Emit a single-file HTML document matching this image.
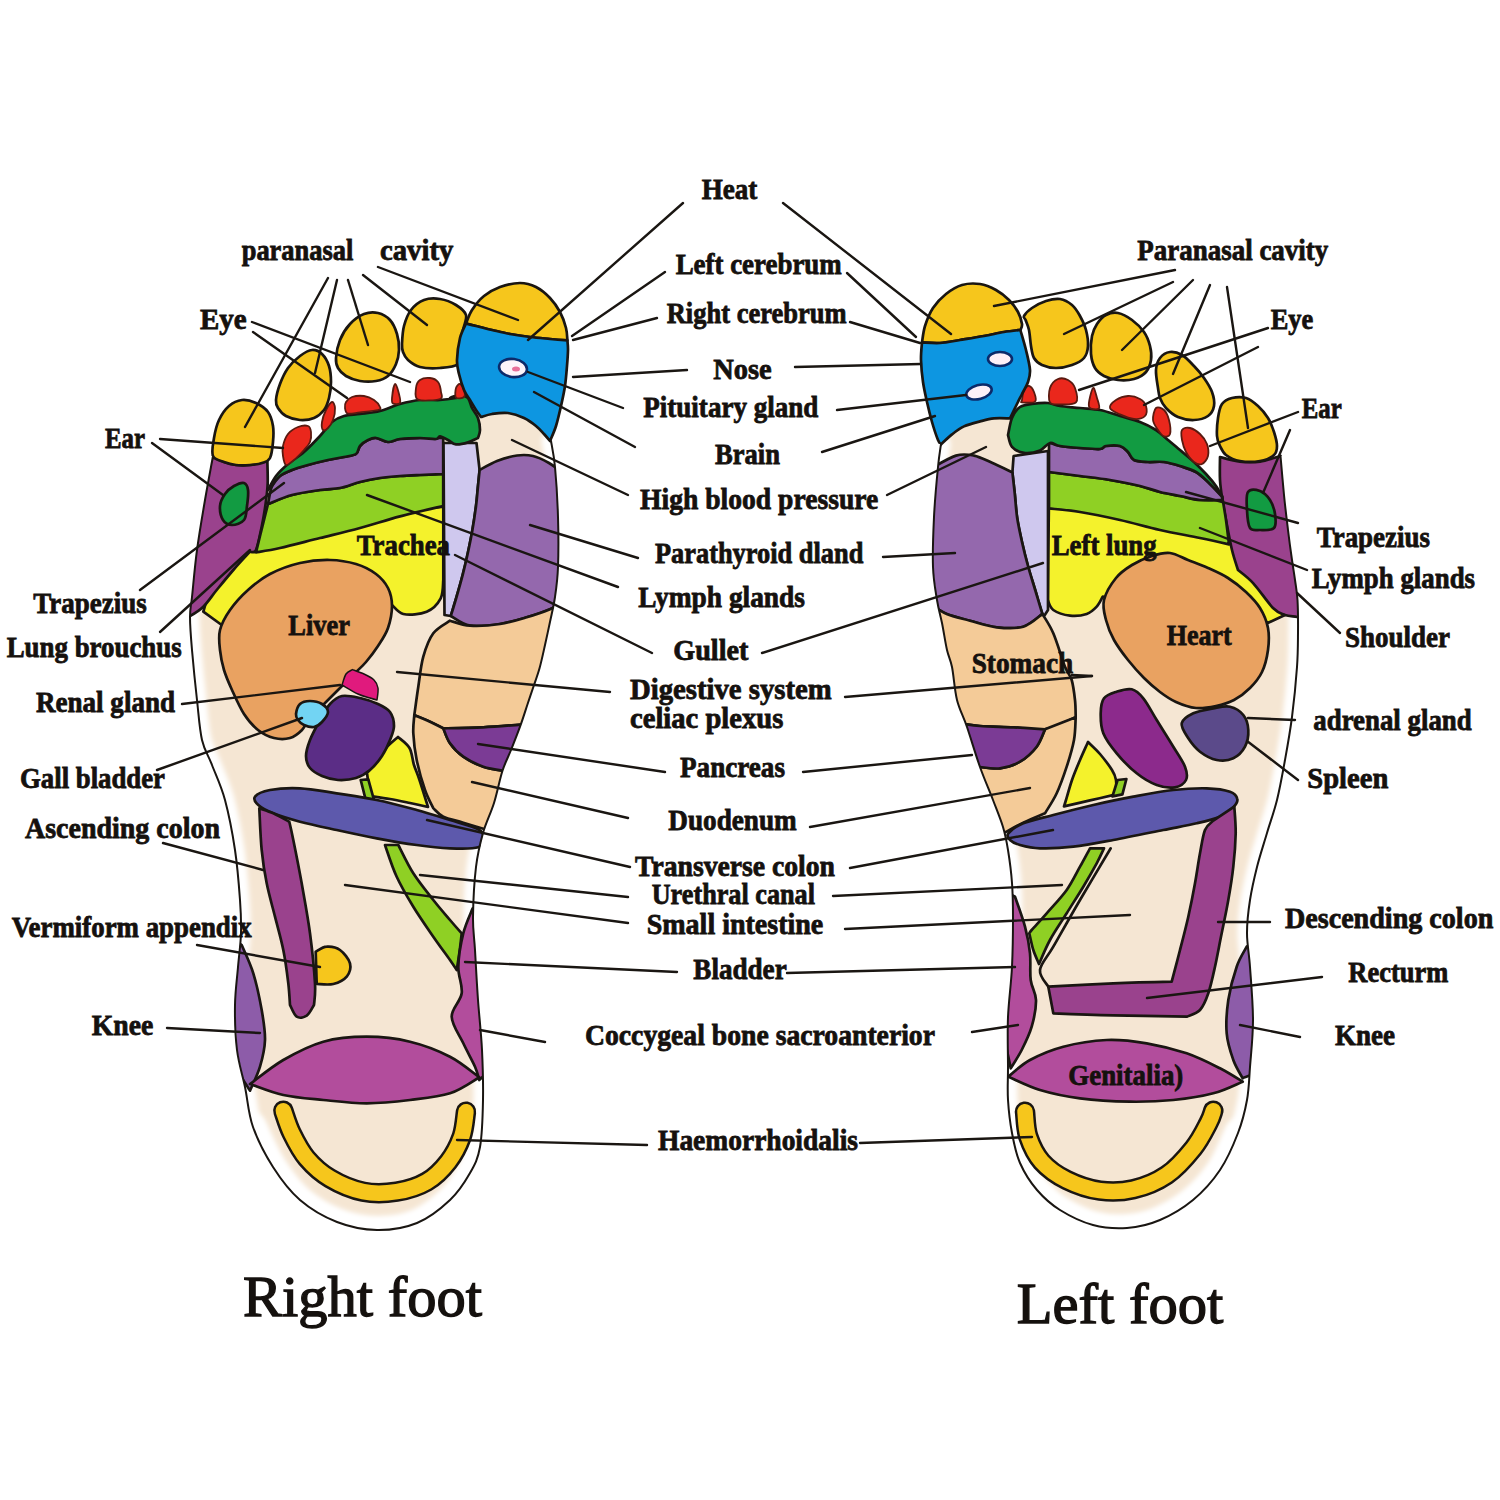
<!DOCTYPE html>
<html><head><meta charset="utf-8"><title>Foot reflexology chart</title>
<style>
html,body{margin:0;padding:0;background:#fff;}
body{width:1500px;height:1500px;overflow:hidden;font-family:"Liberation Serif",serif;}
svg{display:block;}
text{font-family:"Liberation Serif",serif;fill:#15110e;}
.lb{font-weight:bold;font-size:30px;stroke:#15110e;stroke-width:0.8px;}
.ti{font-size:56px;stroke:#15110e;stroke-width:1.3px;}
</style></head><body>
<svg width="1500" height="1500" viewBox="0 0 1500 1500">
<defs><filter id="bl" x="-20%" y="-20%" width="140%" height="140%"><feGaussianBlur stdDeviation="2.5"/></filter></defs>
<rect width="1500" height="1500" fill="#ffffff"/>
<path d="M213 456C211.7 463.3 207.7 484.3 205 500C202.3 515.7 199.2 533.8 197 550C194.8 566.2 193.2 585.8 192 597C190.8 608.2 190 608.2 190 617C190 625.8 190.8 636.2 192 650C193.2 663.8 195.3 685 197 700C198.7 715 199.5 729.2 202 740C204.5 750.8 208.2 755 212 765C215.8 775 221.2 785.8 225 800C228.8 814.2 232.5 833.3 235 850C237.5 866.7 239 886.2 240 900C241 913.8 241.3 921.8 241 933C240.7 944.2 239 955 238 967C237 979 235.2 991.2 235 1005C234.8 1018.8 235.3 1036.3 237 1050C238.7 1063.7 242.3 1074.2 245 1087C247.7 1099.8 248.3 1113.7 253 1127C257.7 1140.3 265.2 1154.8 273 1167C280.8 1179.2 289.3 1190.8 300 1200C310.7 1209.2 324.2 1217 337 1222C349.8 1227 363.7 1229.8 377 1230C390.3 1230.2 404.8 1228 417 1223C429.2 1218 441.2 1208.3 450 1200C458.8 1191.7 465 1181.8 470 1173C475 1164.2 477.8 1159.2 480 1147C482.2 1134.8 482.7 1116.2 483 1100C483.3 1083.8 482.8 1066.7 482 1050C481.2 1033.3 479.2 1016.7 478 1000C476.8 983.3 475.8 963.8 475 950C474.2 936.2 472.8 930.8 473 917C473.2 903.2 474.3 881 476 867C477.7 853 480 843.7 483 833C486 822.3 490.8 813.3 494 803C497.2 792.7 499.6 779.8 502.4 771C505.2 762.2 508 757.6 511 750C514 742.4 517.6 733.3 520.4 725.6C523.2 717.9 525.5 710.3 527.6 704C529.7 697.7 531 694 533 688C535 682 537.6 675.2 539.6 668C541.6 660.8 543.2 653 545 645C546.8 637 548.7 628 550.4 620C552.1 612 553.7 605.8 555 597C556.3 588.2 557.5 580.3 558 567C558.5 553.7 558.5 533.7 558 517C557.5 500.3 556.2 479.7 555 467C553.8 454.3 551.7 445.3 551 441C549.8 439.8 546.5 436.5 544 434C541.5 431.5 539.3 428.7 536 426C532.7 423.3 528.7 420.2 524 418C519.3 415.8 513.3 413.7 508 413C502.7 412.3 496.5 413.3 492 414C487.5 414.7 482.8 416.5 481 417C479.2 414.5 472.5 405.5 470 402C467.5 398.5 468.3 396.7 466 396C463.7 395.3 460.3 397.3 456 398C451.7 398.7 446 399.7 440 400C434 400.3 426.7 399.3 420 400C413.3 400.7 406.7 402.2 400 404C393.3 405.8 386.7 409.3 380 411C373.3 412.7 366 413.2 360 414C354 414.8 348.7 414.7 344 416C339.3 417.3 336 418.7 332 422C328 425.3 324.7 431 320 436C315.3 441 309.3 447.3 304 452C298.7 456.7 292.7 460 288 464C283.3 468 279.3 471.7 276 476C272.7 480.3 269.3 487.7 268 490C268 486.7 267.7 475.8 268 470C268.3 464.2 269.7 457.5 270 455C265 456.7 249.5 464.8 240 465C230.5 465.2 217.5 457.5 213 456Z" fill="#f5e6d3" stroke="none" stroke-width="2.7" stroke-linejoin="round" stroke-linecap="round" />
<path d="M213 456C211.7 463.3 207.7 484.3 205 500C202.3 515.7 199.2 533.8 197 550C194.8 566.2 193.2 585.8 192 597C190.8 608.2 190 608.2 190 617C190 625.8 190.8 636.2 192 650C193.2 663.8 195.3 685 197 700C198.7 715 199.5 729.2 202 740C204.5 750.8 208.2 755 212 765C215.8 775 221.2 785.8 225 800C228.8 814.2 232.5 833.3 235 850C237.5 866.7 239 886.2 240 900C241 913.8 241.3 921.8 241 933C240.7 944.2 239 955 238 967C237 979 235.2 991.2 235 1005C234.8 1018.8 235.3 1036.3 237 1050C238.7 1063.7 242.3 1074.2 245 1087C247.7 1099.8 248.3 1113.7 253 1127C257.7 1140.3 265.2 1154.8 273 1167C280.8 1179.2 289.3 1190.8 300 1200C310.7 1209.2 324.2 1217 337 1222C349.8 1227 363.7 1229.8 377 1230C390.3 1230.2 404.8 1228 417 1223C429.2 1218 441.2 1208.3 450 1200C458.8 1191.7 465 1181.8 470 1173C475 1164.2 477.8 1159.2 480 1147C482.2 1134.8 482.7 1116.2 483 1100C483.3 1083.8 482.8 1066.7 482 1050C481.2 1033.3 479.2 1016.7 478 1000C476.8 983.3 475.8 963.8 475 950C474.2 936.2 472.8 930.8 473 917C473.2 903.2 474.3 881 476 867C477.7 853 480 843.7 483 833C486 822.3 490.8 813.3 494 803C497.2 792.7 499.6 779.8 502.4 771C505.2 762.2 508 757.6 511 750C514 742.4 517.6 733.3 520.4 725.6C523.2 717.9 525.5 710.3 527.6 704C529.7 697.7 531 694 533 688C535 682 537.6 675.2 539.6 668C541.6 660.8 543.2 653 545 645C546.8 637 548.7 628 550.4 620C552.1 612 553.7 605.8 555 597C556.3 588.2 557.5 580.3 558 567C558.5 553.7 558.5 533.7 558 517C557.5 500.3 556.2 479.7 555 467C553.8 454.3 551.7 445.3 551 441" fill="none" stroke="#ffffff" stroke-width="19" stroke-linejoin="round" stroke-linecap="round" filter="url(#bl)"/>
<path d="M253 1127C256.3 1133.7 265.2 1154.8 273 1167C280.8 1179.2 289.3 1190.8 300 1200C310.7 1209.2 324.2 1217 337 1222C349.8 1227 363.7 1229.8 377 1230C390.3 1230.2 404.8 1228 417 1223C429.2 1218 441.2 1208.3 450 1200C458.8 1191.7 465 1181.8 470 1173C475 1164.2 478.3 1151.3 480 1147" fill="none" stroke="#ffffff" stroke-width="28" stroke-linejoin="round" stroke-linecap="round" filter="url(#bl)"/>
<clipPath id="clipR"><path d="M213 456L205 500L197 550L192 597L190 617L192 650L197 700L202 740L212 765L225 800L235 850L240 900L241 933L238 967L235 1005L237 1050L245 1087L253 1127L273 1167L300 1200L337 1222L377 1230L417 1223L450 1200L470 1173L480 1147L483 1100L482 1050L478 1000L475 950L473 917L476 867L483 833L494 803L502.4 771L511 750L520.4 725.6L527.6 704L533 688L539.6 668L545 645L550.4 620L555 597L558 567L558 517L555 467L551 441L640 441L640 250L150 250L150 456Z"/></clipPath>
<g clip-path="url(#clipR)">
<path d="M246.7 543.3C243.6 547.2 234.2 559.4 228.3 566.7C222.5 573.9 215.8 579.2 211.7 586.7C207.5 594.2 204.7 607.5 203.3 611.7L221.7 625C226.4 623.6 239.7 620.8 250 616.7C260.3 612.5 271.1 605.6 283.3 600C295.6 594.4 312.2 586.1 323.3 583.3C334.4 580.6 341.1 581.1 350 583.3C358.9 585.6 372.2 594.4 376.7 596.7C378.9 597.8 385.6 600.4 390 603.3C394.4 606.2 397.2 612.6 403.3 614C409.4 615.4 420.4 614.3 426.7 611.7C432.9 609.1 437.9 603.6 440.7 598.3C443.4 593.1 442.9 583.1 443.3 580L443.3 506.7C433.3 507.8 404.4 509.4 383.3 513.3C362.2 517.2 337.2 525.6 316.7 530C296.1 534.4 271.1 536.9 260 540C248.9 543.1 251.7 546.9 250 548.3Z" fill="#f4f22c" stroke="#1a1612" stroke-width="2.7" stroke-linejoin="round" stroke-linecap="round" />
<path d="M213 456C210.8 463.3 203.8 484.3 200 500C196.2 515.7 192.5 533.8 190 550C187.5 566.2 186.2 585.7 185 597C183.8 608.3 183.3 614.5 183 618C184.2 617.7 186.6 617.9 190 616C193.4 614.1 198.9 611 203.3 606.7C207.8 602.3 211.7 596.1 216.7 590C221.7 583.9 227.8 576.4 233.3 570C238.9 563.6 247.2 554.7 250 551.7C251 551.4 254.1 554.2 256 550C257.9 545.8 260.1 534.4 261.7 526.7C263.3 518.9 264.7 510.6 265.7 503.3C266.7 496.1 267.4 490.6 267.7 483.3C267.9 476.1 267.4 463.9 267.3 460C264.4 460.8 255.2 464.2 250 465C244.8 465.8 240.3 465.5 236 465C231.7 464.5 227.8 463.3 224 462C220.2 460.7 214.8 457.8 213 457Z" fill="#9a428d" stroke="#1a1612" stroke-width="2.7" stroke-linejoin="round" stroke-linecap="round" />
<path d="M220 506C220.3 501.7 222.7 497.3 225 494C227.3 490.7 230.8 487.8 234 486C237.2 484.2 241.7 482.3 244 483C246.3 483.7 247.5 486.2 248 490C248.5 493.8 247.7 501 247 506C246.3 511 246.5 516.8 244 520C241.5 523.2 235.5 525 232 525C228.5 525 225 523.2 223 520C221 516.8 219.7 510.3 220 506Z" fill="#129b42" stroke="#1a1612" stroke-width="2.7" stroke-linejoin="round" stroke-linecap="round" />
<path d="M268 504C267.3 506.7 265.3 514.7 264 520C262.7 525.3 261.3 530.6 260 536C258.7 541.4 256.7 549.7 256 552.4C260 551.7 269.3 550.4 280 548C290.7 545.6 306.7 541.3 320 538C333.3 534.7 346.7 531.6 360 528C373.3 524.4 386.1 520.1 400 516.4C413.9 512.7 436 507.7 443.2 506L443.2 474C439.3 474.2 427.2 474.7 420 475C412.8 475.3 406.7 475.5 400 476C393.3 476.5 386.7 477 380 478C373.3 479 366.7 480.3 360 482C353.3 483.7 346.7 486.7 340 488C333.3 489.3 328 488.8 320 490C312 491.2 300.7 492.7 292 495C283.3 497.3 272 502.5 268 504Z" fill="#8fd024" stroke="#1a1612" stroke-width="2.7" stroke-linejoin="round" stroke-linecap="round" />
<path d="M268 504C272 502.5 283.3 497.3 292 495C300.7 492.7 312 491.2 320 490C328 488.8 333.3 489.3 340 488C346.7 486.7 353.3 483.7 360 482C366.7 480.3 373.3 479 380 478C386.7 477 393.3 476.5 400 476C406.7 475.5 412.8 475.3 420 475C427.2 474.7 439.3 474.2 443.2 474L443.2 438C439.3 438 427.2 437.8 420 438C412.8 438.2 405.3 438.3 400 439C394.7 439.7 392 442.2 388 442C384 441.8 379.3 438.3 376 438C372.7 437.7 370.7 438.7 368 440C365.3 441.3 362 443.7 360 446C358 448.3 358.7 452.2 356 454C353.3 455.8 348.7 456 344 457C339.3 458 334 458.7 328 460C322 461.3 314 463.3 308 465C302 466.7 296.7 468.2 292 470C287.3 471.8 283.3 473.3 280 476C276.7 478.7 274 481.3 272 486C270 490.7 268.7 501 268 504Z" fill="#9468ad" stroke="#1a1612" stroke-width="2.7" stroke-linejoin="round" stroke-linecap="round" />
<path d="M443.5 443L476.5 443L479.6 470C479.3 473 478.4 482 477.8 488C477.2 494 476.9 499 476 506C475.1 513 473.8 522 472.4 530C471 538 469.2 546.6 467.6 554C466 561.4 464.6 567.4 462.8 574.4C461 581.4 458.8 589.1 456.8 596C454.8 602.9 451.8 612.7 450.8 616L444.5 615L443.5 443Z" fill="#cfc8ee" stroke="#1a1612" stroke-width="2.7" stroke-linejoin="round" stroke-linecap="round" />
<path d="M268 490C269.3 487.7 272.7 480.3 276 476C279.3 471.7 283.3 468 288 464C292.7 460 298.7 456.7 304 452C309.3 447.3 315.3 441 320 436C324.7 431 328 425.3 332 422C336 418.7 339.3 417.3 344 416C348.7 414.7 354 414.8 360 414C366 413.2 373.3 412.7 380 411C386.7 409.3 393.3 405.8 400 404C406.7 402.2 413.3 400.7 420 400C426.7 399.3 434 400.3 440 400C446 399.7 454.3 398.3 456 398C457.7 397.7 449.3 398.5 450 398C450.7 397.5 457 395 460 395C463 395 466 395.8 468 398C470 400.2 470.3 404.7 472 408C473.7 411.3 476.7 414.3 478 418C479.3 421.7 480 426.7 480 430C480 433.3 478.3 436.7 478 438C476.3 438.7 471.7 441.3 468 442.4C464.3 443.5 459.3 444.8 456 444.4C452.7 444 450.7 441.3 448 440C445.3 438.7 442 436.6 440 436.4C438 436.2 439.3 438.7 436 439C432.7 439.3 426 438 420 438C414 438 405.3 438.3 400 439C394.7 439.7 392 442.2 388 442C384 441.8 379.3 438.3 376 438C372.7 437.7 370.7 438.7 368 440C365.3 441.3 362 443.7 360 446C358 448.3 358.7 452.2 356 454C353.3 455.8 348.7 456 344 457C339.3 458 334 458.7 328 460C322 461.3 314 463.3 308 465C302 466.7 296.7 468.2 292 470C287.3 471.8 283.3 473.3 280 476C276.7 478.7 274 483.7 272 486C270 488.3 268.7 489.3 268 490Z" fill="#129b42" stroke="#1a1612" stroke-width="2.7" stroke-linejoin="round" stroke-linecap="round" />
<path d="M283 446C283.8 442.3 285.5 437.2 288 434C290.5 430.8 294.7 428.3 298 427C301.3 425.7 305.8 425.2 308 426C310.2 426.8 310.7 429.3 311 432C311.3 434.7 311.2 439 310 442C308.8 445 306.7 447 304 450C301.3 453 297 457.5 294 460C291 462.5 287.8 465.7 286 465C284.2 464.3 283.5 459.2 283 456C282.5 452.8 282.2 449.7 283 446Z" fill="#ea271c" stroke="#5a1a10" stroke-width="1.8" stroke-linejoin="round" stroke-linecap="round" />
<path d="M322 422C322.5 418.7 324.3 413.3 326 410C327.7 406.7 330.5 402.3 332 402C333.5 401.7 334.8 405 335 408C335.2 411 334.2 416.7 333 420C331.8 423.3 329.7 426.3 328 428C326.3 429.7 324 431 323 430C322 429 321.5 425.3 322 422Z" fill="#ea271c" stroke="#5a1a10" stroke-width="1.8" stroke-linejoin="round" stroke-linecap="round" />
<path d="M346 402C347.2 400.2 349 398 352 397C355 396 360.3 395.5 364 396C367.7 396.5 371.3 398.2 374 400C376.7 401.8 379.3 405.3 380 407C380.7 408.7 381.3 409.1 378 410C374.7 410.9 365 411.8 360 412.4C355 413 350.5 414.3 348 413.6C345.5 412.9 345.3 409.9 345 408C344.7 406.1 344.8 403.8 346 402Z" fill="#ea271c" stroke="#5a1a10" stroke-width="1.8" stroke-linejoin="round" stroke-linecap="round" />
<path d="M392 398C392.3 394.7 393.8 384.7 395 384C396.2 383.3 398.2 390.8 399 394C399.8 397.2 401 401.4 400 403C399 404.6 394.3 404.4 393 403.6C391.7 402.8 391.7 401.3 392 398Z" fill="#ea271c" stroke="#5a1a10" stroke-width="1.8" stroke-linejoin="round" stroke-linecap="round" />
<path d="M416 388C416.3 384.7 417.7 381.7 420 380C422.3 378.3 427 377.7 430 378C433 378.3 436.2 379.7 438 382C439.8 384.3 440.7 389.2 441 392C441.3 394.8 443.8 397.7 440 399C436.2 400.3 422 401.4 418 399.6C414 397.8 415.7 391.3 416 388Z" fill="#ea271c" stroke="#5a1a10" stroke-width="1.8" stroke-linejoin="round" stroke-linecap="round" />
<path d="M456 388C456.7 385.7 458.7 383.7 460 384C461.3 384.3 463.3 387.8 464 390C464.7 392.2 465.3 395.7 464 397C462.7 398.3 457.3 399.1 456 397.6C454.7 396.1 455.3 390.3 456 388Z" fill="#ea271c" stroke="#5a1a10" stroke-width="1.8" stroke-linejoin="round" stroke-linecap="round" />
<path d="M213 456C211.3 452 213 444 214 438C215 432 216.5 425.3 219 420C221.5 414.7 225.2 409.3 229 406C232.8 402.7 237.5 400.5 242 400C246.5 399.5 251.7 401 256 403C260.3 405 265.2 408.2 268 412C270.8 415.8 272.2 421 273 426C273.8 431 273.5 436.7 273 442C272.5 447.3 271.8 454.5 270 458C268.2 461.5 265.3 461.8 262 463C258.7 464.2 254.3 464.7 250 465C245.7 465.3 240.3 465.5 236 465C231.7 464.5 227.8 463.5 224 462C220.2 460.5 214.7 460 213 456Z" fill="#f6c61c" stroke="#1a1612" stroke-width="2.7" stroke-linejoin="round" stroke-linecap="round" />
<path d="M276 400C276.3 396 278 389.3 280 384C282 378.7 284.7 372.7 288 368C291.3 363.3 296 359 300 356C304 353 308.3 350.3 312 350C315.7 349.7 319.2 351.3 322 354C324.8 356.7 327.5 361.3 329 366C330.5 370.7 331 376.7 331 382C331 387.3 330.2 393.3 329 398C327.8 402.7 326.5 406.7 324 410C321.5 413.3 318 416.3 314 418C310 419.7 304.7 420.3 300 420C295.3 419.7 289.7 418 286 416C282.3 414 279.7 410.7 278 408C276.3 405.3 275.7 404 276 400Z" fill="#f6c61c" stroke="#1a1612" stroke-width="2.7" stroke-linejoin="round" stroke-linecap="round" />
<path d="M336 358C336.3 353.3 337.7 345.7 340 340C342.3 334.3 346 328.3 350 324C354 319.7 359.3 315.8 364 314C368.7 312.2 373.7 312 378 313C382.3 314 386.8 316.5 390 320C393.2 323.5 395.5 329 397 334C398.5 339 399.2 345 399 350C398.8 355 397.8 359.7 396 364C394.2 368.3 391.3 373.2 388 376C384.7 378.8 380.7 380.2 376 381C371.3 381.8 365 381.8 360 381C355 380.2 349.7 378.2 346 376C342.3 373.8 339.7 371 338 368C336.3 365 335.7 362.7 336 358Z" fill="#f6c61c" stroke="#1a1612" stroke-width="2.7" stroke-linejoin="round" stroke-linecap="round" />
<path d="M402 344C402.2 339.7 402.5 331.7 404 326C405.5 320.3 407.7 314.3 411 310C414.3 305.7 419.2 301.8 424 300C428.8 298.2 434.7 298.2 440 299C445.3 299.8 451.7 302.3 456 305C460.3 307.7 464.8 310.8 466 315C467.2 319.2 464.1 324.2 463 330C461.9 335.8 460.4 344.3 459.6 350C458.8 355.7 461.3 361 458 364C454.7 367 446.3 367.5 440 368C433.7 368.5 425.3 368.3 420 367C414.7 365.7 410.8 362.5 408 360C405.2 357.5 404 354.7 403 352C402 349.3 401.8 348.3 402 344Z" fill="#f6c61c" stroke="#1a1612" stroke-width="2.7" stroke-linejoin="round" stroke-linecap="round" />
<path d="M466 323.6C467 321.3 469 314.6 472 310C475 305.4 479.3 299.8 484 296C488.7 292.2 494 289.2 500 287C506 284.8 514 283 520 283C526 283 531 284.5 536 287C541 289.5 546 293.8 550 298C554 302.2 557.3 307 560 312C562.7 317 564.8 323.3 566 328C567.2 332.7 567.2 338.3 567.4 340.4C564.5 340.2 556.2 339.6 550 339C543.8 338.4 536.7 337.8 530 337C523.3 336.2 516.3 335.2 510 334C503.7 332.8 497.7 331.3 492 330C486.3 328.7 480.3 327.1 476 326C471.7 324.9 467.7 324 466 323.6Z" fill="#f6c61c" stroke="#1a1612" stroke-width="2.7" stroke-linejoin="round" stroke-linecap="round" />
<path d="M466 323.6C467.7 324 471.7 324.9 476 326C480.3 327.1 486.3 328.7 492 330C497.7 331.3 503.7 332.8 510 334C516.3 335.2 523.3 336.2 530 337C536.7 337.8 543.8 338.4 550 339C556.2 339.6 564.5 340.2 567.4 340.4C567.5 342 568.1 345.7 568 350C567.9 354.3 567.5 360 567 366C566.5 372 566 379.3 565 386C564 392.7 562.5 399.3 561 406C559.5 412.7 557.8 420.2 556 426C554.2 431.8 551 438.5 550 441C549 439.8 546.3 436.5 544 434C541.7 431.5 539.3 428.7 536 426C532.7 423.3 528.7 420.2 524 418C519.3 415.8 513.3 413.7 508 413C502.7 412.3 496.5 413.3 492 414C487.5 414.7 482.8 416.5 481 417C480.2 415.8 477.8 412.8 476 410C474.2 407.2 472 403.3 470 400C468 396.7 465.8 394.3 464 390C462.2 385.7 460.2 379 459 374C457.8 369 456.8 366 457 360C457.2 354 458.5 344.1 460 338C461.5 331.9 465 326 466 323.6Z" fill="#0d96e1" stroke="#1a1612" stroke-width="2.7" stroke-linejoin="round" stroke-linecap="round" />
<ellipse cx="513.0" cy="368.0" rx="14" ry="9" transform="rotate(8 513.0 368.0)" fill="#fdf4fa" stroke="#0c2a6a" stroke-width="2.6"/>
<ellipse cx="516" cy="369" rx="4" ry="2.5" fill="#e8709a"/>
<path d="M479.6 470C482.5 468.5 490.8 463.4 497 461C503.2 458.6 511 456.3 517 455.5C523 454.7 527.7 454.8 533 456C538.3 457.2 544.2 460.3 549 463C553.8 465.7 559.8 470.5 562 472C562.5 479.5 564.5 501.2 565 517C565.5 532.8 565.5 552.8 565 567C564.5 581.2 562.5 596.2 562 602C560 603.2 555.9 606.8 550 609.3C544.1 611.9 535 614.9 526.7 617.3C518.3 619.8 509.4 622.6 500 624C490.6 625.4 478.2 627 470 625.7C461.8 624.3 454 617.6 450.8 616C451.8 612.7 454.8 602.9 456.8 596C458.8 589.1 461 581.4 462.8 574.4C464.6 567.4 466 561.4 467.6 554C469.2 546.6 471 538 472.4 530C473.8 522 475.1 513 476 506C476.9 499 477.2 494 477.8 488C478.4 482 479.3 473 479.6 470Z" fill="#9468ad" stroke="#1a1612" stroke-width="2.7" stroke-linejoin="round" stroke-linecap="round" />
<path d="M450 620.7C453.3 621.5 461.7 625.1 470 625.7C478.3 626.2 490.6 625.4 500 624C509.4 622.6 518.3 619.8 526.7 617.3C535 614.9 543.9 611.9 550 609.3C556.1 606.7 561.1 602.9 563.3 601.7C561.1 609.7 553.9 636.4 550 650C546.1 663.6 543.6 671 540 683.3C536.4 695.7 530.3 717.2 528.3 724C520.8 724.6 497.5 726.6 483.3 727.3C469.2 728.1 450 728.2 443.3 728.3C441.1 727.2 434.8 723.9 430 721.7C425.2 719.4 416.9 716.1 414.3 715C415 710.3 416.8 696.4 418.3 686.7C419.8 676.9 420.8 665.6 423.3 656.7C425.8 647.8 428.9 639.3 433.3 633.3C437.8 627.3 447.2 622.8 450 620.7Z" fill="#f4cb98" stroke="#1a1612" stroke-width="2.7" stroke-linejoin="round" stroke-linecap="round" />
<path d="M414.3 715C416.9 716.1 425.2 719.4 430 721.7C434.8 723.9 441.1 727.2 443.3 728.3C444.4 730.8 446.7 738.6 450 743.3C453.3 748.1 457.8 752.8 463.3 756.7C468.9 760.6 475.8 764.2 483.3 766.7C490.8 769.2 504.2 770.8 508.3 771.7C508.1 774.2 508.1 780.8 506.7 786.7C505.3 792.5 502.2 799.2 500 806.7C497.8 814.2 494.4 827.5 493.3 831.7C488.3 830.2 471.7 825.2 463.3 822.7C455 820.2 448.3 819.1 443.3 816.7C438.3 814.3 435 809.7 433.3 808.3C431.9 805.3 427.8 798.1 425 790C422.2 781.9 418.6 769.4 416.7 760C414.7 750.6 413.7 740.8 413.3 733.3C412.9 725.8 414.2 718.1 414.3 715Z" fill="#f4cb98" stroke="#1a1612" stroke-width="2.7" stroke-linejoin="round" stroke-linecap="round" />
<path d="M443.3 728.3C450 728.2 469.2 728.1 483.3 727.3C497.5 726.6 520.8 724.6 528.3 724C526.9 727.8 523.3 738.7 520 746.7C516.7 754.6 510.3 767.5 508.3 771.7C504.2 770.8 490.8 769.2 483.3 766.7C475.8 764.2 468.9 760.6 463.3 756.7C457.8 752.8 453.3 748.1 450 743.3C446.7 738.6 444.4 730.8 443.3 728.3Z" fill="#7b3b95" stroke="#1a1612" stroke-width="2.7" stroke-linejoin="round" stroke-linecap="round" />
<path d="M220 650C219.3 643.3 218.3 636.7 220 630C221.7 623.3 225.3 616.7 230 610C234.7 603.3 241.3 596 248 590C254.7 584 261.3 578.5 270 574C278.7 569.5 290 565.3 300 563C310 560.7 320.7 559.8 330 560C339.3 560.2 348.3 561.7 356 564C363.7 566.3 370.7 570 376 574C381.3 578 385.3 582.7 388 588C390.7 593.3 392 599.3 392 606C392 612.7 390.3 621.3 388 628C385.7 634.7 381.7 640.3 378 646C374.3 651.7 370 657.3 366 662C362 666.7 358.7 669.3 354 674C349.3 678.7 343 685 338 690C333 695 328.7 699.3 324 704C319.3 708.7 313.7 713.7 310 718C306.3 722.3 305.3 726.7 302 730C298.7 733.3 294.7 736.7 290 738C285.3 739.3 279.3 739.3 274 738C268.7 736.7 263 734 258 730C253 726 248.3 720.7 244 714C239.7 707.3 235.3 697.3 232 690C228.7 682.7 226 676.7 224 670C222 663.3 220.7 656.7 220 650Z" fill="#e9a261" stroke="#1a1612" stroke-width="2.7" stroke-linejoin="round" stroke-linecap="round" />
<path d="M398 737C396 738.8 389.7 743.8 386 748C382.3 752.2 379.2 757.8 376 762C372.8 766.2 368.5 771.2 367 773L370 796C373.3 796.5 383.3 797.8 390 799C396.7 800.2 403.7 801.7 410 803C416.3 804.3 425 806.3 428 807C426.6 802.5 421.8 787 419.5 780C417.2 773 415.7 770.3 414 765C412.3 759.7 412.2 752.7 409.5 748C406.8 743.3 399.9 738.8 398 737Z" fill="#f4f22c" stroke="#1a1612" stroke-width="2.7" stroke-linejoin="round" stroke-linecap="round" />
<path d="M330 704C333.7 700 337 697 342 696C347 695 354 696.7 360 698C366 699.3 373 701.7 378 704C383 706.3 387.3 708.3 390 712C392.7 715.7 394 721.3 394 726C394 730.7 392 735 390 740C388 745 385.3 751 382 756C378.7 761 374.3 766.3 370 770C365.7 773.7 361.3 776.3 356 778C350.7 779.7 343.7 780.3 338 780C332.3 779.7 326.7 778 322 776C317.3 774 312.7 771.3 310 768C307.3 764.7 306 760.7 306 756C306 751.3 307.7 746 310 740C312.3 734 316.7 726 320 720C323.3 714 326.3 708 330 704Z" fill="#5b2d86" stroke="#1a1612" stroke-width="2.7" stroke-linejoin="round" stroke-linecap="round" />
<path d="M342 685C342.7 683.2 344.3 676.6 346 674C347.7 671.4 351.3 670.3 352.4 669.6C354.3 670.3 360.4 672.3 364 674C367.6 675.7 371.7 677.7 374 680C376.3 682.3 377.5 684.7 378 688C378.5 691.3 377.2 698 377 700C375.8 699.7 373.2 699 370 698C366.8 697 362.7 696.2 358 694C353.3 691.8 344.7 686.5 342 685Z" fill="#e01a7d" stroke="#1a1612" stroke-width="1.5" stroke-linejoin="round" stroke-linecap="round" />
<path d="M296 714C296.3 711.3 297.7 706.2 300 704C302.3 701.8 306.3 701 310 701C313.7 701 319 702.2 322 704C325 705.8 328 709 328 712C328 715 324.3 719.5 322 722C319.7 724.5 317 726.5 314 727C311 727.5 306.7 726.2 304 725C301.3 723.8 299.3 721.8 298 720C296.7 718.2 295.7 716.7 296 714Z" fill="#72d4f3" stroke="#1a1612" stroke-width="2.7" stroke-linejoin="round" stroke-linecap="round" />
<path d="M360.7 780L368.3 779.3L374 800L366 801Z" fill="#8fd024" stroke="#1a1612" stroke-width="2.7" stroke-linejoin="round" stroke-linecap="round" />
<path d="M385 845C386.9 850.3 391.9 866.4 396.7 876.7C401.4 886.9 407.2 896.7 413.3 906.7C419.4 916.7 427.2 927.8 433.3 936.7C439.4 945.6 446.1 954.4 450 960C453.9 965.6 455.6 968.3 456.7 970C457.1 967.2 458.5 959.4 459.3 953.3C460.2 947.2 461.3 936.7 461.7 933.3C459.7 931.1 454.7 925.6 450 920C445.3 914.4 439.4 907.8 433.3 900C427.2 892.2 419.2 882.5 413.3 873.3C407.5 864.2 400.8 849.7 398.3 845L385 845Z" fill="#8fd024" stroke="#1a1612" stroke-width="2.7" stroke-linejoin="round" stroke-linecap="round" />
<path d="M255 796.7C256.9 794.2 262.5 791.4 270 790C277.5 788.6 288.9 787.8 300 788.3C311.1 788.9 323.9 791.4 336.7 793.3C349.4 795.3 363.3 797.2 376.7 800C390 802.8 404.4 806.7 416.7 810C428.9 813.3 439.7 816.8 450 820C460.3 823.2 472.8 826.3 478.3 829.3C483.9 832.4 483.3 835.3 483.3 838.3C483.3 841.3 483.9 845.7 478.3 847.3C472.8 849 460.3 848.7 450 848.3C439.7 847.9 428.9 846.7 416.7 845C404.4 843.3 390 840.8 376.7 838.3C363.3 835.8 349.4 832.8 336.7 830C323.9 827.2 310.6 824.4 300 821.7C289.4 818.9 280.3 816.1 273.3 813.3C266.4 810.6 261.4 807.8 258.3 805C255.3 802.2 253.1 799.2 255 796.7Z" fill="#5d59ac" stroke="#1a1612" stroke-width="2.7" stroke-linejoin="round" stroke-linecap="round" />
<path d="M259.3 808.3C259.7 815.3 260.4 837.5 261.7 850C262.9 862.5 264.4 872.2 266.7 883.3C268.9 894.4 272.2 905.6 275 916.7C277.8 927.8 281.1 938.9 283.3 950C285.6 961.1 287.2 974.2 288.3 983.3C289.4 992.5 289.7 1001.4 290 1005C291.1 1006.9 293.9 1014.9 296.7 1016.7C299.4 1018.4 303.8 1017.6 306.7 1015.7C309.6 1013.7 312.8 1006.8 314 1005C314.2 1001.4 315.7 995.3 315 983.3C314.3 971.4 312.2 950 310 933.3C307.8 916.7 304.4 898.9 301.7 883.3C298.9 867.8 295.4 850.3 293.3 840C291.3 829.7 290 824.7 289.3 821.7C286.7 820.3 278.3 815.6 273.3 813.3C268.3 811.1 261.7 809.2 259.3 808.3Z" fill="#9a428d" stroke="#1a1612" stroke-width="2.7" stroke-linejoin="round" stroke-linecap="round" />
<path d="M315.7 951.7C317.5 950.8 322.6 946.9 326.7 946.7C330.7 946.4 336.1 947.2 340 950C343.9 952.8 348.9 958.9 350 963.3C351.1 967.8 349.4 973.2 346.7 976.7C343.9 980.1 338.3 982.8 333.3 984C328.3 985.2 319.4 984 316.7 984L315.7 951.7Z" fill="#f6c61c" stroke="#1a1612" stroke-width="2.7" stroke-linejoin="round" stroke-linecap="round" />
<path d="M472.7 908.3C471.1 912.5 465.7 923.6 463.3 933.3C460.9 943.1 458.6 956.7 458.3 966.7C458.1 976.7 462.8 985 461.7 993.3C460.6 1001.7 451.4 1008.3 451.7 1016.7C451.9 1025 459.4 1035 463.3 1043.3C467.2 1051.7 472.3 1060.6 475 1066.7C477.7 1072.8 478.6 1077.8 479.3 1080C480.6 1077.8 485.7 1077.2 486.7 1066.7C487.6 1056.1 485.8 1033.3 485 1016.7C484.2 1000 482.8 984.7 481.7 966.7C480.6 948.6 478.9 918.1 478.3 908.3Z" fill="#b24d9c" stroke="#1a1612" stroke-width="2.7" stroke-linejoin="round" stroke-linecap="round" />
<path d="M241.7 945C243.6 949.7 250 962.5 253.3 973.3C256.7 984.2 259.7 998.9 261.7 1010C263.6 1021.1 265.3 1030.6 265 1040C264.7 1049.4 262.5 1058.2 260 1066.7C257.5 1075.1 251.7 1086.7 250 1090.7C247.2 1085.6 236.8 1072.3 233.3 1060C229.8 1047.7 229.4 1030.6 229 1016.7C228.6 1002.8 228.9 988.9 230.7 976.7C232.4 964.4 237.9 948.9 239.3 943.3Z" fill="#8d5ca9" stroke="#1a1612" stroke-width="2.7" stroke-linejoin="round" stroke-linecap="round" />
<path d="M250 1084C255.6 1080 271.1 1067.1 283.3 1060C295.6 1052.9 309.4 1045.6 323.3 1041.7C337.2 1037.8 352.2 1036.7 366.7 1036.7C381.1 1036.7 396.1 1038.3 410 1041.7C423.9 1045 438.4 1050.7 450 1056.7C461.6 1062.6 474.4 1073.9 479.3 1077.3C474.4 1080 461.6 1089.6 450 1093.3C438.4 1097.1 423.9 1098.3 410 1100C396.1 1101.7 381.1 1103.3 366.7 1103.3C352.2 1103.3 337.2 1101.4 323.3 1100C309.4 1098.6 295.6 1097.7 283.3 1095C271.1 1092.3 255.6 1085.8 250 1084Z" fill="#b24d9c" stroke="#1a1612" stroke-width="2.7" stroke-linejoin="round" stroke-linecap="round" />
<path d="M283.3 1110.7C284.7 1114.4 287.8 1125.4 291.7 1133.3C295.6 1141.3 300.3 1150.8 306.7 1158.3C313.1 1165.8 320.6 1172.8 330 1178.3C339.4 1183.9 352.2 1189.4 363.3 1191.7C374.4 1193.9 386.1 1193.3 396.7 1191.7C407.2 1190 418.1 1186.7 426.7 1181.7C435.3 1176.7 442.5 1169.2 448.3 1161.7C454.2 1154.2 458.7 1145 461.7 1136.7C464.6 1128.3 465.3 1115.8 466 1111.7" fill="none" stroke="#1a1612" stroke-width="20.5" stroke-linejoin="round" stroke-linecap="round" />
<path d="M283.3 1110.7C284.7 1114.4 287.8 1125.4 291.7 1133.3C295.6 1141.3 300.3 1150.8 306.7 1158.3C313.1 1165.8 320.6 1172.8 330 1178.3C339.4 1183.9 352.2 1189.4 363.3 1191.7C374.4 1193.9 386.1 1193.3 396.7 1191.7C407.2 1190 418.1 1186.7 426.7 1181.7C435.3 1176.7 442.5 1169.2 448.3 1161.7C454.2 1154.2 458.7 1145 461.7 1136.7C464.6 1128.3 465.3 1115.8 466 1111.7" fill="none" stroke="#f6c61c" stroke-width="15.5" stroke-linejoin="round" stroke-linecap="round" />
</g>
<path d="M213 456C211.7 463.3 207.7 484.3 205 500C202.3 515.7 199.2 533.8 197 550C194.8 566.2 193.2 585.8 192 597C190.8 608.2 190 608.2 190 617C190 625.8 190.8 636.2 192 650C193.2 663.8 195.3 685 197 700C198.7 715 199.5 729.2 202 740C204.5 750.8 208.2 755 212 765C215.8 775 221.2 785.8 225 800C228.8 814.2 232.5 833.3 235 850C237.5 866.7 239 886.2 240 900C241 913.8 241.3 921.8 241 933C240.7 944.2 239 955 238 967C237 979 235.2 991.2 235 1005C234.8 1018.8 235.3 1036.3 237 1050C238.7 1063.7 242.3 1074.2 245 1087C247.7 1099.8 248.3 1113.7 253 1127C257.7 1140.3 265.2 1154.8 273 1167C280.8 1179.2 289.3 1190.8 300 1200C310.7 1209.2 324.2 1217 337 1222C349.8 1227 363.7 1229.8 377 1230C390.3 1230.2 404.8 1228 417 1223C429.2 1218 441.2 1208.3 450 1200C458.8 1191.7 465 1181.8 470 1173C475 1164.2 477.8 1159.2 480 1147C482.2 1134.8 482.7 1116.2 483 1100C483.3 1083.8 482.8 1066.7 482 1050C481.2 1033.3 479.2 1016.7 478 1000C476.8 983.3 475.8 963.8 475 950C474.2 936.2 472.8 930.8 473 917C473.2 903.2 474.3 881 476 867C477.7 853 480 843.7 483 833C486 822.3 490.8 813.3 494 803C497.2 792.7 499.6 779.8 502.4 771C505.2 762.2 508 757.6 511 750C514 742.4 517.6 733.3 520.4 725.6C523.2 717.9 525.5 710.3 527.6 704C529.7 697.7 531 694 533 688C535 682 537.6 675.2 539.6 668C541.6 660.8 543.2 653 545 645C546.8 637 548.7 628 550.4 620C552.1 612 553.7 605.8 555 597C556.3 588.2 557.5 580.3 558 567C558.5 553.7 558.5 533.7 558 517C557.5 500.3 556.2 479.7 555 467C553.8 454.3 551.7 445.3 551 441" fill="none" stroke="#1a1612" stroke-width="2.0" stroke-linejoin="round" stroke-linecap="round" />
<path d="M941 444C940.5 447.8 939.2 454.8 938 467C936.8 479.2 934.8 500.3 934 517C933.2 533.7 932.5 553.2 933 567C933.5 580.8 935.5 590.7 937 600C938.5 609.3 940.3 614.7 942 623C943.7 631.3 945.3 642.7 947 650C948.7 657.3 950.3 658.7 952 667C953.7 675.3 954.5 690 957 700C959.5 710 963.2 715.8 967 727C970.8 738.2 975.7 754.8 980 767C984.3 779.2 989.2 790 993 800C996.8 810 1000.5 818.7 1003 827C1005.5 835.3 1006.5 840.7 1008 850C1009.5 859.3 1011.2 871.8 1012 883C1012.8 894.2 1013 903 1013 917C1013 931 1012.8 950.3 1012 967C1011.2 983.7 1008.7 1000.3 1008 1017C1007.3 1033.7 1008 1053.2 1008 1067C1008 1080.8 1007.3 1089 1008 1100C1008.7 1111 1010 1122.5 1012 1133C1014 1143.5 1015.8 1153.5 1020 1163C1024.2 1172.5 1030.3 1182.2 1037 1190C1043.7 1197.8 1050.7 1204.2 1060 1210C1069.3 1215.8 1081.8 1222 1093 1225C1104.2 1228 1115.8 1228.8 1127 1228C1138.2 1227.2 1149 1224.7 1160 1220C1171 1215.3 1183 1208.3 1193 1200C1203 1191.7 1212.5 1181.2 1220 1170C1227.5 1158.8 1233.5 1144.7 1238 1133C1242.5 1121.3 1245 1111 1247 1100C1249 1089 1249 1080.3 1250 1067C1251 1053.7 1253 1036.7 1253 1020C1253 1003.3 1251 981.5 1250 967C1249 952.5 1247 944.2 1247 933C1247 921.8 1248.3 911 1250 900C1251.7 889 1254.2 878.2 1257 867C1259.8 855.8 1263.7 844.2 1267 833C1270.3 821.8 1274 812.2 1277 800C1280 787.8 1282.5 773.8 1285 760C1287.5 746.2 1290 732.5 1292 717C1294 701.5 1296 681 1297 667C1298 653 1297.9 644.2 1298 633C1298.1 621.8 1298 608.8 1297.5 600C1297 591.2 1295.9 586.7 1295 580C1294.1 573.3 1293.2 568.3 1292 560C1290.8 551.7 1289.3 540.8 1288 530C1286.7 519.2 1285.2 507.3 1284 495C1282.8 482.7 1281.1 462.5 1280.5 456C1277.1 456.9 1266.8 460.5 1260 461.4C1253.2 462.3 1246.7 462.3 1240 461.4C1233.3 460.5 1223.3 456.9 1220 456C1220 460 1219.7 473.3 1220 480C1220.3 486.7 1221.7 493.3 1222 496C1222 496 1223 497.7 1222 496C1221 494.3 1218.7 489.7 1216 486C1213.3 482.3 1209.7 478 1206 474C1202.3 470 1198.3 466 1194 462C1189.7 458 1184.3 453.7 1180 450C1175.7 446.3 1172 443.3 1168 440C1164 436.7 1160.7 433 1156 430C1151.3 427 1146 424.3 1140 422C1134 419.7 1126.7 418 1120 416C1113.3 414 1106.7 411.3 1100 410C1093.3 408.7 1086.7 408.7 1080 408C1073.3 407.3 1065.3 406.8 1060 406C1054.7 405.2 1052.7 403.3 1048 403C1043.3 402.7 1036.7 403.3 1032 404C1027.3 404.7 1023.3 404.7 1020 407C1016.7 409.3 1013.3 416.2 1012 418C1011.7 418.1 1013 418.3 1010 418.4C1007 418.5 999 417.9 994 418.4C989 418.9 985 420.1 980 421.4C975 422.7 968.7 424.2 964 426.4C959.3 428.6 955.8 431.4 952 434.4C948.2 437.4 942.8 442.7 941 444.4Z" fill="#f5e6d3" stroke="none" stroke-width="2.7" stroke-linejoin="round" stroke-linecap="round" />
<path d="M941 444C940.5 447.8 939.2 454.8 938 467C936.8 479.2 934.8 500.3 934 517C933.2 533.7 932.5 553.2 933 567C933.5 580.8 935.5 590.7 937 600C938.5 609.3 940.3 614.7 942 623C943.7 631.3 945.3 642.7 947 650C948.7 657.3 950.3 658.7 952 667C953.7 675.3 954.5 690 957 700C959.5 710 963.2 715.8 967 727C970.8 738.2 975.7 754.8 980 767C984.3 779.2 989.2 790 993 800C996.8 810 1000.5 818.7 1003 827C1005.5 835.3 1006.5 840.7 1008 850C1009.5 859.3 1011.2 871.8 1012 883C1012.8 894.2 1013 903 1013 917C1013 931 1012.8 950.3 1012 967C1011.2 983.7 1008.7 1000.3 1008 1017C1007.3 1033.7 1008 1053.2 1008 1067C1008 1080.8 1007.3 1089 1008 1100C1008.7 1111 1010 1122.5 1012 1133C1014 1143.5 1015.8 1153.5 1020 1163C1024.2 1172.5 1030.3 1182.2 1037 1190C1043.7 1197.8 1050.7 1204.2 1060 1210C1069.3 1215.8 1081.8 1222 1093 1225C1104.2 1228 1115.8 1228.8 1127 1228C1138.2 1227.2 1149 1224.7 1160 1220C1171 1215.3 1183 1208.3 1193 1200C1203 1191.7 1212.5 1181.2 1220 1170C1227.5 1158.8 1233.5 1144.7 1238 1133C1242.5 1121.3 1245 1111 1247 1100C1249 1089 1249 1080.3 1250 1067C1251 1053.7 1253 1036.7 1253 1020C1253 1003.3 1251 981.5 1250 967C1249 952.5 1247 944.2 1247 933C1247 921.8 1248.3 911 1250 900C1251.7 889 1254.2 878.2 1257 867C1259.8 855.8 1263.7 844.2 1267 833C1270.3 821.8 1274 812.2 1277 800C1280 787.8 1282.5 773.8 1285 760C1287.5 746.2 1290 732.5 1292 717C1294 701.5 1296 681 1297 667C1298 653 1297.9 644.2 1298 633C1298.1 621.8 1298 608.8 1297.5 600C1297 591.2 1295.9 586.7 1295 580C1294.1 573.3 1293.2 568.3 1292 560C1290.8 551.7 1289.3 540.8 1288 530C1286.7 519.2 1285.2 507.3 1284 495C1282.8 482.7 1281.1 462.5 1280.5 456" fill="none" stroke="#ffffff" stroke-width="19" stroke-linejoin="round" stroke-linecap="round" filter="url(#bl)"/>
<path d="M1012 1133C1013.3 1138 1015.8 1153.5 1020 1163C1024.2 1172.5 1030.3 1182.2 1037 1190C1043.7 1197.8 1050.7 1204.2 1060 1210C1069.3 1215.8 1081.8 1222 1093 1225C1104.2 1228 1115.8 1228.8 1127 1228C1138.2 1227.2 1149 1224.7 1160 1220C1171 1215.3 1183 1208.3 1193 1200C1203 1191.7 1212.5 1181.2 1220 1170C1227.5 1158.8 1235 1139.2 1238 1133" fill="none" stroke="#ffffff" stroke-width="28" stroke-linejoin="round" stroke-linecap="round" filter="url(#bl)"/>
<clipPath id="clipL"><path d="M941 444L938 467L934 517L933 567L937 600L942 623L947 650L952 667L957 700L967 727L980 767L993 800L1003 827L1008 850L1012 883L1013 917L1012 967L1008 1017L1008 1067L1008 1100L1012 1133L1020 1163L1037 1190L1060 1210L1093 1225L1127 1228L1160 1220L1193 1200L1220 1170L1238 1133L1247 1100L1250 1067L1253 1020L1250 967L1247 933L1250 900L1257 867L1267 833L1277 800L1285 760L1292 717L1297 667L1298 633L1297.5 600L1295 580L1292 560L1288 530L1284 495L1280.5 456L1340 455L1340 250L860 250L860 444Z"/></clipPath>
<g clip-path="url(#clipL)">
<path d="M1049 496.7C1048.9 505.6 1048.6 532.8 1048.3 550C1048.1 567.2 1047.8 591.7 1047.7 600C1048.6 601.7 1049.6 607.4 1053.3 610C1057.1 612.6 1064.4 615 1070 615.7C1075.6 616.3 1082.2 615.5 1086.7 614C1091.1 612.5 1094 609.6 1096.7 606.7C1099.3 603.8 1101.7 598.3 1102.7 596.7C1105.6 596.7 1112.7 598.9 1120 596.7C1127.3 594.4 1136.7 585.6 1146.7 583.3C1156.7 581.1 1168.9 581.1 1180 583.3C1191.1 585.6 1203.3 591.7 1213.3 596.7C1223.3 601.7 1230.8 609 1240 613.3C1249.2 617.7 1263.6 621.1 1268.3 622.7L1285 615C1283.9 613.3 1282.8 610.8 1278.3 605C1273.9 599.2 1264.2 586.4 1258.3 580C1252.5 573.6 1247.2 571.7 1243.3 566.7C1239.4 561.7 1237.2 557.2 1235 550C1232.8 542.8 1230.8 527.8 1230 523.3C1216.1 520 1176.8 507.8 1146.7 503.3C1116.5 498.9 1065.3 497.8 1049 496.7Z" fill="#f4f22c" stroke="#1a1612" stroke-width="2.7" stroke-linejoin="round" stroke-linecap="round" />
<path d="M1220 457C1223.3 457.8 1233.3 460.8 1240 461.6C1246.7 462.4 1253.2 462.5 1260 461.6C1266.8 460.7 1277.1 456.9 1280.5 456C1282.1 461.7 1287.8 477.7 1290 490C1292.2 502.3 1292.7 518.3 1294 530C1295.3 541.7 1296.8 552.5 1298 560C1299.2 567.5 1300 568.3 1301 575C1302 581.7 1303.3 592.7 1304 600C1304.7 607.3 1304.8 615.8 1305 619C1303.7 618.7 1300.3 617.7 1297 617C1293.7 616.3 1288.9 616.4 1285 615C1281.1 613.6 1278.6 613.6 1273.3 608.3C1268.1 603.1 1259.2 589.7 1253.3 583.3C1247.4 576.9 1240.6 572.2 1238 570C1237 566.7 1234 558.3 1232 550C1230 541.7 1227.6 528.3 1226 520C1224.4 511.7 1223.4 506.7 1222.4 500C1221.4 493.3 1220.4 487.2 1220 480C1219.6 472.8 1220 460.8 1220 457Z" fill="#9a428d" stroke="#1a1612" stroke-width="2.7" stroke-linejoin="round" stroke-linecap="round" />
<path d="M1248 492C1250.2 488.8 1256.3 489.7 1260 491C1263.7 492.3 1267.5 496.2 1270 500C1272.5 503.8 1274.3 509.3 1275 514C1275.7 518.7 1276.5 525.3 1274 528C1271.5 530.7 1264 530 1260 530C1256 530 1252.2 531.3 1250 528C1247.8 524.7 1247.3 516 1247 510C1246.7 504 1245.8 495.2 1248 492Z" fill="#129b42" stroke="#1a1612" stroke-width="2.7" stroke-linejoin="round" stroke-linecap="round" />
<path d="M1049 472L1049 508.4C1054.2 509 1068.2 510.1 1080 512C1091.8 513.9 1106.7 517 1120 520C1133.3 523 1146.7 527 1160 530C1173.3 533 1188.5 535.6 1200 538C1211.5 540.4 1224.2 543.3 1229 544.4C1228.5 540.3 1227.1 527.7 1226 520C1224.9 512.3 1223 501.7 1222.4 498C1218.7 498.3 1207.1 500.3 1200 500C1192.9 499.7 1186.7 497.3 1180 496C1173.3 494.7 1166.7 493.7 1160 492C1153.3 490.3 1148.3 488 1140 486C1131.7 484 1120 481.7 1110 480C1100 478.3 1090.2 477.3 1080 476C1069.8 474.7 1054.2 472.7 1049 472Z" fill="#8fd024" stroke="#1a1612" stroke-width="2.7" stroke-linejoin="round" stroke-linecap="round" />
<path d="M1049 442.4L1049 472C1054.2 472.7 1069.8 474.7 1080 476C1090.2 477.3 1100 478.3 1110 480C1120 481.7 1131.7 484 1140 486C1148.3 488 1153.3 490.3 1160 492C1166.7 493.7 1173.3 494.7 1180 496C1186.7 497.3 1192.9 499.3 1200 500C1207.1 500.7 1218.7 500 1222.4 500L1222 496C1219.7 493.7 1212.3 486 1208 482C1203.7 478 1200.7 474.7 1196 472C1191.3 469.3 1185.3 467.7 1180 466C1174.7 464.3 1169.3 462.7 1164 462C1158.7 461.3 1153 462.3 1148 462C1143 461.7 1137.3 461.7 1134 460C1130.7 458.3 1130.3 454.3 1128 452C1125.7 449.7 1123.7 447 1120 446C1116.3 445 1109.3 445.5 1106 446C1102.7 446.5 1104.3 448.7 1100 449C1095.7 449.3 1086.7 448.5 1080 448C1073.3 447.5 1065.2 446.9 1060 446C1054.8 445.1 1050.8 443 1049 442.4Z" fill="#9468ad" stroke="#1a1612" stroke-width="2.7" stroke-linejoin="round" stroke-linecap="round" />
<path d="M1013.6 456L1048 451L1048 610L1044.8 615C1044.4 614.8 1044 618.2 1042.4 614C1040.8 609.8 1037.6 598 1035.2 590C1032.8 582 1030.2 574 1028 566C1025.8 558 1023.8 550 1022 542C1020.2 534 1018.4 526 1017.2 518C1016 510 1015.6 501.6 1014.8 494C1014 486.4 1012.8 476 1012.4 472.4L1013.6 456Z" fill="#cfc8ee" stroke="#1a1612" stroke-width="2.7" stroke-linejoin="round" stroke-linecap="round" />
<path d="M1008 435C1008.7 432.2 1010 422.7 1012 418C1014 413.3 1016.7 409.3 1020 407C1023.3 404.7 1027.3 404.7 1032 404C1036.7 403.3 1043.3 402.7 1048 403C1052.7 403.3 1054.7 405.2 1060 406C1065.3 406.8 1073.3 407.3 1080 408C1086.7 408.7 1093.3 408.7 1100 410C1106.7 411.3 1113.3 414 1120 416C1126.7 418 1134 419.7 1140 422C1146 424.3 1151.3 427 1156 430C1160.7 433 1164 436.7 1168 440C1172 443.3 1175.7 446.3 1180 450C1184.3 453.7 1189.7 458 1194 462C1198.3 466 1202.3 470 1206 474C1209.7 478 1213.3 482.2 1216 486C1218.7 489.8 1221.3 495.2 1222.4 497C1220 494.5 1212.4 486.2 1208 482C1203.6 477.8 1200.7 474.7 1196 472C1191.3 469.3 1185.3 467.7 1180 466C1174.7 464.3 1169.3 462.7 1164 462C1158.7 461.3 1153 462.3 1148 462C1143 461.7 1137.3 461.7 1134 460C1130.7 458.3 1130.3 454.3 1128 452C1125.7 449.7 1123.7 447 1120 446C1116.3 445 1109.3 445.5 1106 446C1102.7 446.5 1104.3 448.7 1100 449C1095.7 449.3 1086.7 448.5 1080 448C1073.3 447.5 1065 446.8 1060 446C1055 445.2 1053.3 442.3 1050 443C1046.7 443.7 1044.3 448.8 1040 450.4C1035.7 452 1028.7 453.4 1024 452.8C1019.3 452.2 1014.7 449.8 1012 446.8C1009.3 443.8 1008.7 437 1008 435Z" fill="#129b42" stroke="#1a1612" stroke-width="2.7" stroke-linejoin="round" stroke-linecap="round" />
<path d="M1022 400C1022.3 397.9 1022.8 392.3 1024 390C1025.2 387.7 1027.3 385.7 1029 386C1030.7 386.3 1033 389.4 1034 392C1035 394.6 1037 399.9 1035 401.6C1033 403.3 1024.2 402.7 1022 402.4C1019.8 402.1 1021.7 402.1 1022 400Z" fill="#ea271c" stroke="#5a1a10" stroke-width="1.8" stroke-linejoin="round" stroke-linecap="round" />
<path d="M1050 402.4C1048.3 399.7 1048.7 391.9 1050 388C1051.3 384.1 1055 380.3 1058 379C1061 377.7 1065.2 378.5 1068 380C1070.8 381.5 1073.7 384.3 1075 388C1076.3 391.7 1078.5 399.7 1076 402.4C1073.5 405.1 1064.3 404.4 1060 404.4C1055.7 404.4 1051.7 405.1 1050 402.4Z" fill="#ea271c" stroke="#5a1a10" stroke-width="1.8" stroke-linejoin="round" stroke-linecap="round" />
<path d="M1089 406.4C1088 403 1091.7 389.4 1093 388C1094.3 386.6 1096 394.6 1097 398C1098 401.4 1100.3 407 1099 408.4C1097.7 409.8 1090 409.8 1089 406.4Z" fill="#ea271c" stroke="#5a1a10" stroke-width="1.8" stroke-linejoin="round" stroke-linecap="round" />
<path d="M1110 408C1109.3 405.6 1113 402 1116 400C1119 398 1124 396.2 1128 396C1132 395.8 1137 397.3 1140 399C1143 400.7 1145.2 403.2 1146 406C1146.8 408.8 1147 413.8 1145 416C1143 418.2 1138.2 419.3 1134 419C1129.8 418.7 1124 416.2 1120 414.4C1116 412.6 1110.7 410.4 1110 408Z" fill="#ea271c" stroke="#5a1a10" stroke-width="1.8" stroke-linejoin="round" stroke-linecap="round" />
<path d="M1153 420C1152.7 416.3 1154.2 409.7 1156 408C1157.8 406.3 1161.8 408 1164 410C1166.2 412 1168 416 1169 420C1170 424 1170.8 431.3 1170 434C1169.2 436.7 1166 437.1 1164 436.4C1162 435.7 1159.8 432.7 1158 430C1156.2 427.3 1153.3 423.7 1153 420Z" fill="#ea271c" stroke="#5a1a10" stroke-width="1.8" stroke-linejoin="round" stroke-linecap="round" />
<path d="M1182 430C1183.3 428 1187 427.3 1190 428C1193 428.7 1197.2 431.3 1200 434C1202.8 436.7 1205.7 440.3 1207 444C1208.3 447.7 1208.8 452.7 1208 456C1207.2 459.3 1204.3 463 1202 464C1199.7 465 1196.7 464 1194 462C1191.3 460 1188 455.7 1186 452C1184 448.3 1182.7 443.7 1182 440C1181.3 436.3 1180.7 432 1182 430Z" fill="#ea271c" stroke="#5a1a10" stroke-width="1.8" stroke-linejoin="round" stroke-linecap="round" />
<path d="M1024 316C1025.1 314 1028.3 310.5 1032 308C1035.7 305.5 1041.3 302.5 1046 301C1050.7 299.5 1055.7 298.3 1060 299C1064.3 299.7 1068.7 302.2 1072 305C1075.3 307.8 1077.7 311.8 1080 316C1082.3 320.2 1084.7 325 1086 330C1087.3 335 1088.3 341.3 1088 346C1087.7 350.7 1086.7 354.8 1084 358C1081.3 361.2 1076.7 363.3 1072 365C1067.3 366.7 1061 368 1056 368C1051 368 1045.7 366.7 1042 365C1038.3 363.3 1035.8 361.2 1034 358C1032.2 354.8 1031.8 350.7 1031 346C1030.2 341.3 1029.9 334.3 1029 330C1028.1 325.7 1026.4 322.3 1025.6 320C1024.8 317.7 1022.9 318 1024 316Z" fill="#f6c61c" stroke="#1a1612" stroke-width="2.7" stroke-linejoin="round" stroke-linecap="round" />
<path d="M1092 336C1093 331 1094.7 327.5 1097 324C1099.3 320.5 1102.5 316.8 1106 315C1109.5 313.2 1113.7 312.2 1118 313C1122.3 313.8 1127.7 316.8 1132 320C1136.3 323.2 1141 327.7 1144 332C1147 336.3 1148.8 341.3 1150 346C1151.2 350.7 1151.7 355.7 1151 360C1150.3 364.3 1148.8 368.8 1146 372C1143.2 375.2 1138.7 377.7 1134 379C1129.3 380.3 1123 380.5 1118 380C1113 379.5 1107.8 378 1104 376C1100.2 374 1097.2 371.7 1095 368C1092.8 364.3 1091.5 359.3 1091 354C1090.5 348.7 1091 341 1092 336Z" fill="#f6c61c" stroke="#1a1612" stroke-width="2.7" stroke-linejoin="round" stroke-linecap="round" />
<path d="M1158 388C1157.3 383.3 1155.7 375 1156 370C1156.3 365 1157.7 361 1160 358C1162.3 355 1166.3 352.5 1170 352C1173.7 351.5 1178 352.7 1182 355C1186 357.3 1190.3 362.2 1194 366C1197.7 369.8 1201 373.7 1204 378C1207 382.3 1210.3 387.3 1212 392C1213.7 396.7 1214.7 402 1214 406C1213.3 410 1211.3 413.7 1208 416C1204.7 418.3 1199 419.8 1194 420C1189 420.2 1182.7 419 1178 417C1173.3 415 1169 411.2 1166 408C1163 404.8 1161.3 401.3 1160 398C1158.7 394.7 1158.7 392.7 1158 388Z" fill="#f6c61c" stroke="#1a1612" stroke-width="2.7" stroke-linejoin="round" stroke-linecap="round" />
<path d="M1217 436C1216.7 431.3 1217.2 423.3 1218 418C1218.8 412.7 1219.7 407.3 1222 404C1224.3 400.7 1228 399 1232 398C1236 397 1241.7 396.7 1246 398C1250.3 399.3 1254.3 402.7 1258 406C1261.7 409.3 1265.3 413.7 1268 418C1270.7 422.3 1272.5 427.3 1274 432C1275.5 436.7 1277 442.2 1277 446C1277 449.8 1276.8 452.5 1274 455C1271.2 457.5 1265.7 460 1260 461C1254.3 462 1245.7 462 1240 461C1234.3 460 1229.3 457.5 1226 455C1222.7 452.5 1221.5 449.2 1220 446C1218.5 442.8 1217.3 440.7 1217 436Z" fill="#f6c61c" stroke="#1a1612" stroke-width="2.7" stroke-linejoin="round" stroke-linecap="round" />
<path d="M922 342.4C922.5 339.7 923.2 331.7 925 326C926.8 320.3 929.5 313.3 933 308C936.5 302.7 941.2 297.8 946 294C950.8 290.2 956.3 286.7 962 285C967.7 283.3 974.3 283.2 980 284C985.7 284.8 991.2 287.3 996 290C1000.8 292.7 1005.3 296.3 1009 300C1012.7 303.7 1015.8 308 1018 312C1020.2 316 1021.6 321 1022 324C1022.4 327 1020.7 329 1020.4 330C1017.7 330.3 1010.1 331 1004 332C997.9 333 991.3 334.7 984 336C976.7 337.3 967.3 338.8 960 340C952.7 341.2 946.3 342.6 940 343C933.7 343.4 925 342.5 922 342.4Z" fill="#f6c61c" stroke="#1a1612" stroke-width="2.7" stroke-linejoin="round" stroke-linecap="round" />
<path d="M922 342.4C925 342.5 933.7 343.4 940 343C946.3 342.6 952.7 341.2 960 340C967.3 338.8 976.7 337.3 984 336C991.3 334.7 997.9 333 1004 332C1010.1 331 1017.7 330.3 1020.4 330C1021.3 333.3 1024.4 343.3 1026 350C1027.6 356.7 1029.7 364.7 1030 370C1030.3 375.3 1029.3 378 1028 382C1026.7 386 1024 390 1022 394C1020 398 1018 401.9 1016 406C1014 410.1 1011 416.3 1010 418.4C1007.3 418.4 999 417.9 994 418.4C989 418.9 985 420.1 980 421.4C975 422.7 968.7 424.2 964 426.4C959.3 428.6 955.8 431.4 952 434.4C948.2 437.4 942.8 442.7 941 444.4C940.5 443.7 939.5 443.7 938 440C936.5 436.3 933.8 428.3 932 422C930.2 415.7 928.5 408.7 927 402C925.5 395.3 924 389 923 382C922 375 921.2 366.6 921 360C920.8 353.4 921.8 345.3 922 342.4Z" fill="#0d96e1" stroke="#1a1612" stroke-width="2.7" stroke-linejoin="round" stroke-linecap="round" />
<ellipse cx="1000" cy="359" rx="12" ry="7" fill="#fdf0f8" stroke="#0c2a6a" stroke-width="2.6"/>
<ellipse cx="979" cy="392" rx="13" ry="7" transform="rotate(-15 979 392)" fill="#fdf0f8" stroke="#0c2a6a" stroke-width="2.6"/>
<path d="M930 469C934.3 466.8 948.7 457.8 956 455.6C963.3 453.4 968 454.4 974 455.6C980 456.8 985.6 460 992 462.8C998.4 465.6 1009 470.8 1012.4 472.4C1012.8 476 1014 486.4 1014.8 494C1015.6 501.6 1016 510 1017.2 518C1018.4 526 1020.2 534 1022 542C1023.8 550 1025.8 558 1028 566C1030.2 574 1032.8 582 1035.2 590C1037.6 598 1041.2 610 1042.4 614C1039.2 616.1 1031 624.4 1023.3 626.7C1015.7 628.9 1005.6 628.3 996.7 627.3C987.8 626.3 978.3 622.9 970 620.7C961.7 618.4 953.3 616.8 946.7 614C940 611.2 932.8 605.7 930 604C929.5 601.7 927.8 595.3 927 590C926.2 584.7 925.3 581 925 572C924.7 563 924.8 548 925 536C925.2 524 925.2 511.2 926 500C926.8 488.8 929.3 474.2 930 469Z" fill="#9468ad" stroke="#1a1612" stroke-width="2.7" stroke-linejoin="round" stroke-linecap="round" />
<path d="M930 604C932.8 605.7 940 611.2 946.7 614C953.3 616.8 961.7 618.4 970 620.7C978.3 622.9 987.8 626.3 996.7 627.3C1005.6 628.3 1015.7 628.9 1023.3 626.7C1031 624.4 1039.2 616.1 1042.4 614C1044.2 617.2 1049.6 624.6 1053.3 633.3C1057.1 642.1 1061.9 658.9 1065 666.7C1068.1 674.4 1070 674.4 1071.7 680C1073.3 685.6 1074.3 693.8 1075 700C1075.7 706.2 1075.6 714.4 1075.7 717.3C1070.6 719.3 1055.4 727.7 1045 729.3C1034.6 731 1024.2 727.9 1013.3 727.3C1002.5 726.8 988.3 726.6 980 726C971.7 725.4 966.1 724.3 963.3 724C960.3 718.3 949.7 702.3 945 690C940.3 677.7 937.5 664.3 935 650C932.5 635.7 930.8 611.7 930 604Z" fill="#f4cb98" stroke="#1a1612" stroke-width="2.7" stroke-linejoin="round" stroke-linecap="round" />
<path d="M1045 729.3L1075.7 717.3C1075.4 721.1 1075.5 731.8 1074 740C1072.5 748.2 1069.6 757.8 1066.7 766.7C1063.8 775.6 1060.3 785.6 1056.7 793.3C1053.1 801.1 1046.9 810 1045 813.3C1041.4 814.9 1030.3 819.3 1023.3 822.7C1016.4 826 1006.7 831.6 1003.3 833.3C1000.6 827.8 991.1 811.1 986.7 800C982.2 788.9 978.3 772.2 976.7 766.7C980.6 766.9 992.8 769.2 1000 768.3C1007.2 767.5 1013.9 765.3 1020 761.7C1026.1 758.1 1032.5 752.1 1036.7 746.7C1040.8 741.3 1043.6 732.2 1045 729.3Z" fill="#f4cb98" stroke="#1a1612" stroke-width="2.7" stroke-linejoin="round" stroke-linecap="round" />
<path d="M963.3 724C966.1 724.3 971.7 725.4 980 726C988.3 726.6 1002.5 726.8 1013.3 727.3C1024.2 727.9 1039.7 729 1045 729.3C1043.6 732.2 1040.8 741.3 1036.7 746.7C1032.5 752.1 1026.1 758.1 1020 761.7C1013.9 765.3 1007.2 767.5 1000 768.3C992.8 769.2 980.6 766.9 976.7 766.7L963.3 724Z" fill="#7b3b95" stroke="#1a1612" stroke-width="2.7" stroke-linejoin="round" stroke-linecap="round" />
<path d="M1104 600C1102.3 607 1104.3 613.3 1106 620C1107.7 626.7 1110.3 633.3 1114 640C1117.7 646.7 1123 653.7 1128 660C1133 666.3 1138.7 672.7 1144 678C1149.3 683.3 1154.7 688 1160 692C1165.3 696 1170 699.3 1176 702C1182 704.7 1189.3 707.3 1196 708C1202.7 708.7 1209.7 707.3 1216 706C1222.3 704.7 1228.3 703 1234 700C1239.7 697 1245.3 692.7 1250 688C1254.7 683.3 1259 678.3 1262 672C1265 665.7 1267 657.3 1268 650C1269 642.7 1269.3 635 1268 628C1266.7 621 1263.7 614 1260 608C1256.3 602 1251.3 597 1246 592C1240.7 587 1234.3 582 1228 578C1221.7 574 1214.7 571 1208 568C1201.3 565 1194.3 562.5 1188 560C1181.7 557.5 1176 553.7 1170 553C1164 552.3 1158.3 554 1152 556C1145.7 558 1138 561.3 1132 565C1126 568.7 1120.7 572.2 1116 578C1111.3 583.8 1105.7 593 1104 600Z" fill="#e9a261" stroke="#1a1612" stroke-width="2.7" stroke-linejoin="round" stroke-linecap="round" />
<path d="M1104 698.3C1106.7 694.7 1112.1 693.2 1116.7 691.7C1121.3 690.2 1127.2 688.2 1131.7 689.3C1136.1 690.4 1139.2 693.2 1143.3 698.3C1147.5 703.4 1151.7 711.9 1156.7 720C1161.7 728.1 1168.6 738.9 1173.3 746.7C1178.1 754.4 1182.9 761.1 1185 766.7C1187.1 772.2 1187.7 776.6 1186 780C1184.3 783.4 1179.9 786.5 1175 787.3C1170.1 788.2 1163.1 787.3 1156.7 785C1150.3 782.7 1143.3 778.6 1136.7 773.3C1130 768.1 1122.2 760 1116.7 753.3C1111.1 746.7 1106 740 1103.3 733.3C1100.7 726.7 1100.6 719.2 1100.7 713.3C1100.8 707.5 1101.3 701.9 1104 698.3Z" fill="#8c2a8c" stroke="#1a1612" stroke-width="2.7" stroke-linejoin="round" stroke-linecap="round" />
<path d="M1181.7 723.3C1182.5 719.2 1188.1 715.8 1193.3 713.3C1198.6 710.8 1207.2 709.4 1213.3 708.3C1219.4 707.2 1225 705.6 1230 706.7C1235 707.8 1240.3 711.1 1243.3 715C1246.4 718.9 1248.1 724.7 1248.3 730C1248.6 735.3 1247.5 741.9 1245 746.7C1242.5 751.4 1238.1 756.1 1233.3 758.3C1228.6 760.6 1222.2 761.1 1216.7 760C1211.1 758.9 1204.7 755.3 1200 751.7C1195.3 748.1 1191.4 743.1 1188.3 738.3C1185.3 733.6 1180.8 727.5 1181.7 723.3Z" fill="#5b4a8a" stroke="#1a1612" stroke-width="2.7" stroke-linejoin="round" stroke-linecap="round" />
<path d="M1088 742C1086.7 745 1082.7 753.7 1080 760C1077.3 766.3 1074.3 773.3 1072 780C1069.7 786.7 1067.3 795.6 1066 800C1064.7 804.4 1064.3 805.3 1064 806.4C1068.3 805.4 1081.3 802.4 1090 800.4C1098.7 798.4 1111.7 795.4 1116 794.4C1116 792 1116.7 784.1 1116 780C1115.3 775.9 1114.7 774.3 1112 770C1109.3 765.7 1104 758.7 1100 754C1096 749.3 1090 744 1088 742Z" fill="#f4f22c" stroke="#1a1612" stroke-width="2.7" stroke-linejoin="round" stroke-linecap="round" />
<path d="M1117.6 780L1126.4 779L1122.4 794.4L1112.4 796.4Z" fill="#8fd024" stroke="#1a1612" stroke-width="2.7" stroke-linejoin="round" stroke-linecap="round" />
<path d="M1090 848.3C1088.3 851.4 1083.9 859.7 1080 866.7C1076.1 873.6 1072.2 882.2 1066.7 890C1061.1 897.8 1052.5 906.7 1046.7 913.3C1040.8 920 1034.6 926.7 1031.7 930C1028.8 933.3 1029.7 932.8 1029.3 933.3C1030 936.1 1031.7 944.9 1033.3 950C1034.9 955.1 1038.1 961.7 1039 964C1040.8 960 1045.4 948.4 1050 940C1054.6 931.6 1061.1 922.2 1066.7 913.3C1072.2 904.4 1078.3 895 1083.3 886.7C1088.3 878.3 1093.2 869.7 1096.7 863.3C1100.1 856.9 1102.8 850.8 1104 848.3L1090 848.3Z" fill="#8fd024" stroke="#1a1612" stroke-width="2.7" stroke-linejoin="round" stroke-linecap="round" />
<path d="M1110.7 848.3C1105.6 856.9 1089.6 883.6 1080 900C1070.4 916.4 1060 935 1053.3 946.7C1046.7 958.3 1040.8 963.3 1040 970C1039.2 976.7 1046.9 983.9 1048.3 986.7" fill="none" stroke="#1a1612" stroke-width="2.7" stroke-linejoin="round" stroke-linecap="round" />
<path d="M1008.3 833.3C1010.6 830.6 1015.8 826.4 1023.3 823.3C1030.8 820.3 1041.7 818.1 1053.3 815C1065 811.9 1080 808.1 1093.3 805C1106.7 801.9 1120 799.2 1133.3 796.7C1146.7 794.2 1161.1 791.4 1173.3 790C1185.6 788.6 1197.2 788.1 1206.7 788.3C1216.1 788.6 1224.9 789.9 1230 791.7C1235.1 793.4 1236.8 796.4 1237.3 799C1237.9 801.6 1236.2 804.4 1233.3 807.3C1230.4 810.3 1226.1 814 1220 816.7C1213.9 819.3 1206.1 821.1 1196.7 823.3C1187.2 825.6 1177.2 827.2 1163.3 830C1149.4 832.8 1128.3 837.2 1113.3 840C1098.3 842.8 1085.6 845.3 1073.3 846.7C1061.1 848.1 1048.9 848.6 1040 848.3C1031.1 848.1 1025 846.4 1020 845C1015 843.6 1011.9 841.9 1010 840C1008.1 838.1 1006.1 836.1 1008.3 833.3Z" fill="#5d59ac" stroke="#1a1612" stroke-width="2.7" stroke-linejoin="round" stroke-linecap="round" />
<path d="M1234.3 806.7C1234.6 811.1 1235.8 823.3 1235.7 833.3C1235.5 843.3 1234.6 855.6 1233.3 866.7C1232.1 877.8 1230.3 888.9 1228.3 900C1226.4 911.1 1223.9 922.2 1221.7 933.3C1219.4 944.4 1217.2 956.7 1215 966.7C1212.8 976.7 1210.8 986.1 1208.3 993.3C1205.8 1000.6 1203.6 1006.1 1200 1010C1196.4 1013.9 1188.9 1015.6 1186.7 1016.7C1174.4 1016.4 1135.6 1015.9 1113.3 1015.3C1091.1 1014.8 1063.3 1013.7 1053.3 1013.3L1048.3 986.7C1059.2 986.1 1092.8 984.2 1113.3 983.3C1133.9 982.5 1161.9 981.9 1171.7 981.7C1173.1 976.4 1177.2 960.8 1180 950C1182.8 939.2 1185.8 927.8 1188.3 916.7C1190.8 905.6 1193.1 893.9 1195 883.3C1196.9 872.8 1198.3 862.2 1200 853.3C1201.7 844.4 1202.8 835.4 1205 830C1207.2 824.6 1211.9 822.2 1213.3 820.7L1234.3 806.7Z" fill="#9a428d" stroke="#1a1612" stroke-width="2.7" stroke-linejoin="round" stroke-linecap="round" />
<path d="M1015 896.7C1016.7 901.7 1022.5 917.2 1025 926.7C1027.5 936.1 1029.1 944.4 1030 953.3C1030.9 962.2 1029.7 972.2 1030.7 980C1031.7 987.8 1035.8 992.2 1036 1000C1036.2 1007.8 1034.1 1018.3 1031.7 1026.7C1029.3 1035 1025.2 1043.1 1021.7 1050C1018.2 1056.9 1012.5 1065.3 1010.7 1068.3C1009.2 1059.7 1002.6 1033.6 1001.7 1016.7C1000.7 999.7 1004.2 983.3 1005 966.7C1005.8 950 1005.6 928.6 1006.7 916.7C1007.8 904.7 1010.8 898.6 1011.7 895Z" fill="#b24d9c" stroke="#1a1612" stroke-width="2.7" stroke-linejoin="round" stroke-linecap="round" />
<path d="M1246.7 946.7C1245 950 1239.7 957.8 1236.7 966.7C1233.6 975.6 1230 988.9 1228.3 1000C1226.7 1011.1 1225.8 1023.3 1226.7 1033.3C1227.5 1043.3 1230.7 1052.5 1233.3 1060C1236 1067.5 1241.1 1075.3 1242.7 1078.3C1245 1076.4 1253.8 1076.9 1256.7 1066.7C1259.6 1056.4 1259.9 1033.3 1260 1016.7C1260.1 1000 1259.1 978.6 1257.3 966.7C1255.6 954.7 1250.7 948.6 1249.3 945Z" fill="#8d5ca9" stroke="#1a1612" stroke-width="2.7" stroke-linejoin="round" stroke-linecap="round" />
<path d="M1008.3 1076.7C1011.9 1073.9 1020.8 1065 1030 1060C1039.2 1055 1050.6 1050 1063.3 1046.7C1076.1 1043.3 1092.8 1040.6 1106.7 1040C1120.6 1039.4 1133.3 1041.1 1146.7 1043.3C1160 1045.6 1174.4 1049.2 1186.7 1053.3C1198.9 1057.5 1210.7 1063.6 1220 1068.3C1229.3 1073.1 1238.9 1079.4 1242.7 1081.7C1237.8 1083.6 1224.9 1090.3 1213.3 1093.3C1201.8 1096.4 1187.2 1098.6 1173.3 1100C1159.4 1101.4 1145.6 1101.9 1130 1101.7C1114.4 1101.4 1095 1100.3 1080 1098.3C1065 1096.4 1051.9 1093.6 1040 1090C1028.1 1086.4 1013.6 1078.9 1008.3 1076.7Z" fill="#b24d9c" stroke="#1a1612" stroke-width="2.7" stroke-linejoin="round" stroke-linecap="round" />
<path d="M1025 1111.7C1025.6 1115.8 1025.6 1128.3 1028.3 1136.7C1031.1 1145 1035.3 1154.4 1041.7 1161.7C1048.1 1168.9 1056.9 1175.2 1066.7 1180C1076.4 1184.8 1088.9 1189.1 1100 1190.7C1111.1 1192.2 1122.2 1191.9 1133.3 1189.3C1144.4 1186.7 1156.7 1181.8 1166.7 1175C1176.7 1168.2 1186.4 1156.9 1193.3 1148.3C1200.3 1139.7 1205 1129.6 1208.3 1123.3C1211.7 1117.1 1212.5 1112.8 1213.3 1110.7" fill="none" stroke="#1a1612" stroke-width="20.5" stroke-linejoin="round" stroke-linecap="round" />
<path d="M1025 1111.7C1025.6 1115.8 1025.6 1128.3 1028.3 1136.7C1031.1 1145 1035.3 1154.4 1041.7 1161.7C1048.1 1168.9 1056.9 1175.2 1066.7 1180C1076.4 1184.8 1088.9 1189.1 1100 1190.7C1111.1 1192.2 1122.2 1191.9 1133.3 1189.3C1144.4 1186.7 1156.7 1181.8 1166.7 1175C1176.7 1168.2 1186.4 1156.9 1193.3 1148.3C1200.3 1139.7 1205 1129.6 1208.3 1123.3C1211.7 1117.1 1212.5 1112.8 1213.3 1110.7" fill="none" stroke="#f6c61c" stroke-width="15.5" stroke-linejoin="round" stroke-linecap="round" />
</g>
<path d="M941 444C940.5 447.8 939.2 454.8 938 467C936.8 479.2 934.8 500.3 934 517C933.2 533.7 932.5 553.2 933 567C933.5 580.8 935.5 590.7 937 600C938.5 609.3 940.3 614.7 942 623C943.7 631.3 945.3 642.7 947 650C948.7 657.3 950.3 658.7 952 667C953.7 675.3 954.5 690 957 700C959.5 710 963.2 715.8 967 727C970.8 738.2 975.7 754.8 980 767C984.3 779.2 989.2 790 993 800C996.8 810 1000.5 818.7 1003 827C1005.5 835.3 1006.5 840.7 1008 850C1009.5 859.3 1011.2 871.8 1012 883C1012.8 894.2 1013 903 1013 917C1013 931 1012.8 950.3 1012 967C1011.2 983.7 1008.7 1000.3 1008 1017C1007.3 1033.7 1008 1053.2 1008 1067C1008 1080.8 1007.3 1089 1008 1100C1008.7 1111 1010 1122.5 1012 1133C1014 1143.5 1015.8 1153.5 1020 1163C1024.2 1172.5 1030.3 1182.2 1037 1190C1043.7 1197.8 1050.7 1204.2 1060 1210C1069.3 1215.8 1081.8 1222 1093 1225C1104.2 1228 1115.8 1228.8 1127 1228C1138.2 1227.2 1149 1224.7 1160 1220C1171 1215.3 1183 1208.3 1193 1200C1203 1191.7 1212.5 1181.2 1220 1170C1227.5 1158.8 1233.5 1144.7 1238 1133C1242.5 1121.3 1245 1111 1247 1100C1249 1089 1249 1080.3 1250 1067C1251 1053.7 1253 1036.7 1253 1020C1253 1003.3 1251 981.5 1250 967C1249 952.5 1247 944.2 1247 933C1247 921.8 1248.3 911 1250 900C1251.7 889 1254.2 878.2 1257 867C1259.8 855.8 1263.7 844.2 1267 833C1270.3 821.8 1274 812.2 1277 800C1280 787.8 1282.5 773.8 1285 760C1287.5 746.2 1290 732.5 1292 717C1294 701.5 1296 681 1297 667C1298 653 1297.9 644.2 1298 633C1298.1 621.8 1298 608.8 1297.5 600C1297 591.2 1295.9 586.7 1295 580C1294.1 573.3 1293.2 568.3 1292 560C1290.8 551.7 1289.3 540.8 1288 530C1286.7 519.2 1285.2 507.3 1284 495C1282.8 482.7 1281.1 462.5 1280.5 456" fill="none" stroke="#1a1612" stroke-width="2.0" stroke-linejoin="round" stroke-linecap="round" />
<line x1="683" y1="203" x2="528" y2="340" stroke="#1a1612" stroke-width="2.4" stroke-linecap="round"/>
<line x1="783" y1="203" x2="951" y2="334" stroke="#1a1612" stroke-width="2.4" stroke-linecap="round"/>
<line x1="665" y1="272" x2="572" y2="336" stroke="#1a1612" stroke-width="2.4" stroke-linecap="round"/>
<line x1="847" y1="273" x2="916" y2="337" stroke="#1a1612" stroke-width="2.4" stroke-linecap="round"/>
<line x1="657" y1="318" x2="573" y2="340" stroke="#1a1612" stroke-width="2.4" stroke-linecap="round"/>
<line x1="850" y1="322" x2="920" y2="343" stroke="#1a1612" stroke-width="2.4" stroke-linecap="round"/>
<line x1="687" y1="370" x2="573" y2="377" stroke="#1a1612" stroke-width="2.4" stroke-linecap="round"/>
<line x1="795" y1="367" x2="921" y2="364" stroke="#1a1612" stroke-width="2.4" stroke-linecap="round"/>
<line x1="623" y1="408" x2="528" y2="372" stroke="#1a1612" stroke-width="2.4" stroke-linecap="round"/>
<line x1="837" y1="410" x2="966" y2="395" stroke="#1a1612" stroke-width="2.4" stroke-linecap="round"/>
<line x1="635" y1="447" x2="534" y2="392" stroke="#1a1612" stroke-width="2.4" stroke-linecap="round"/>
<line x1="822" y1="452" x2="935" y2="416" stroke="#1a1612" stroke-width="2.4" stroke-linecap="round"/>
<line x1="628" y1="495" x2="512" y2="440" stroke="#1a1612" stroke-width="2.4" stroke-linecap="round"/>
<line x1="887" y1="495" x2="986" y2="447" stroke="#1a1612" stroke-width="2.4" stroke-linecap="round"/>
<line x1="638" y1="558" x2="530" y2="525" stroke="#1a1612" stroke-width="2.4" stroke-linecap="round"/>
<line x1="883" y1="557" x2="955" y2="553" stroke="#1a1612" stroke-width="2.4" stroke-linecap="round"/>
<line x1="618" y1="587" x2="367" y2="495" stroke="#1a1612" stroke-width="2.4" stroke-linecap="round"/>
<line x1="652" y1="653" x2="455" y2="555" stroke="#1a1612" stroke-width="2.4" stroke-linecap="round"/>
<line x1="762" y1="653" x2="1043" y2="563" stroke="#1a1612" stroke-width="2.4" stroke-linecap="round"/>
<line x1="610" y1="692" x2="397" y2="672" stroke="#1a1612" stroke-width="2.4" stroke-linecap="round"/>
<line x1="845" y1="697" x2="1092" y2="676" stroke="#1a1612" stroke-width="2.4" stroke-linecap="round"/>
<line x1="665" y1="772" x2="478" y2="744" stroke="#1a1612" stroke-width="2.4" stroke-linecap="round"/>
<line x1="803" y1="772" x2="972" y2="755" stroke="#1a1612" stroke-width="2.4" stroke-linecap="round"/>
<line x1="628" y1="818" x2="472" y2="782" stroke="#1a1612" stroke-width="2.4" stroke-linecap="round"/>
<line x1="810" y1="827" x2="1030" y2="788" stroke="#1a1612" stroke-width="2.4" stroke-linecap="round"/>
<line x1="630" y1="867" x2="427" y2="820" stroke="#1a1612" stroke-width="2.4" stroke-linecap="round"/>
<line x1="850" y1="868" x2="1053" y2="830" stroke="#1a1612" stroke-width="2.4" stroke-linecap="round"/>
<line x1="628" y1="897" x2="420" y2="875" stroke="#1a1612" stroke-width="2.4" stroke-linecap="round"/>
<line x1="833" y1="896" x2="1062" y2="885" stroke="#1a1612" stroke-width="2.4" stroke-linecap="round"/>
<line x1="628" y1="923" x2="345" y2="885" stroke="#1a1612" stroke-width="2.4" stroke-linecap="round"/>
<line x1="845" y1="929" x2="1130" y2="915" stroke="#1a1612" stroke-width="2.4" stroke-linecap="round"/>
<line x1="677" y1="972" x2="465" y2="962" stroke="#1a1612" stroke-width="2.4" stroke-linecap="round"/>
<line x1="787" y1="973" x2="1015" y2="967" stroke="#1a1612" stroke-width="2.4" stroke-linecap="round"/>
<line x1="545" y1="1042" x2="480" y2="1030" stroke="#1a1612" stroke-width="2.4" stroke-linecap="round"/>
<line x1="972" y1="1032" x2="1018" y2="1025" stroke="#1a1612" stroke-width="2.4" stroke-linecap="round"/>
<line x1="647" y1="1145" x2="457" y2="1140" stroke="#1a1612" stroke-width="2.4" stroke-linecap="round"/>
<line x1="860" y1="1143" x2="1032" y2="1137" stroke="#1a1612" stroke-width="2.4" stroke-linecap="round"/>
<line x1="328" y1="278" x2="245" y2="427" stroke="#1a1612" stroke-width="2.4" stroke-linecap="round"/>
<line x1="337" y1="280" x2="315" y2="373" stroke="#1a1612" stroke-width="2.4" stroke-linecap="round"/>
<line x1="348" y1="280" x2="368" y2="345" stroke="#1a1612" stroke-width="2.4" stroke-linecap="round"/>
<line x1="363" y1="275" x2="427" y2="325" stroke="#1a1612" stroke-width="2.4" stroke-linecap="round"/>
<line x1="378" y1="267" x2="518" y2="320" stroke="#1a1612" stroke-width="2.4" stroke-linecap="round"/>
<line x1="252" y1="322" x2="410" y2="382" stroke="#1a1612" stroke-width="2.4" stroke-linecap="round"/>
<line x1="253" y1="332" x2="347" y2="398" stroke="#1a1612" stroke-width="2.4" stroke-linecap="round"/>
<line x1="160" y1="439" x2="283" y2="448" stroke="#1a1612" stroke-width="2.4" stroke-linecap="round"/>
<line x1="152" y1="443" x2="223" y2="495" stroke="#1a1612" stroke-width="2.4" stroke-linecap="round"/>
<line x1="140" y1="590" x2="284" y2="483" stroke="#1a1612" stroke-width="2.4" stroke-linecap="round"/>
<line x1="160" y1="632" x2="250" y2="550" stroke="#1a1612" stroke-width="2.4" stroke-linecap="round"/>
<line x1="182" y1="704" x2="340" y2="685" stroke="#1a1612" stroke-width="2.4" stroke-linecap="round"/>
<line x1="157" y1="770" x2="302" y2="718" stroke="#1a1612" stroke-width="2.4" stroke-linecap="round"/>
<line x1="163" y1="843" x2="263" y2="870" stroke="#1a1612" stroke-width="2.4" stroke-linecap="round"/>
<line x1="197" y1="945" x2="320" y2="967" stroke="#1a1612" stroke-width="2.4" stroke-linecap="round"/>
<line x1="167" y1="1028" x2="260" y2="1033" stroke="#1a1612" stroke-width="2.4" stroke-linecap="round"/>
<line x1="1175" y1="270" x2="994" y2="306" stroke="#1a1612" stroke-width="2.4" stroke-linecap="round"/>
<line x1="1173" y1="282" x2="1064" y2="334" stroke="#1a1612" stroke-width="2.4" stroke-linecap="round"/>
<line x1="1193" y1="280" x2="1122" y2="350" stroke="#1a1612" stroke-width="2.4" stroke-linecap="round"/>
<line x1="1210" y1="285" x2="1173" y2="374" stroke="#1a1612" stroke-width="2.4" stroke-linecap="round"/>
<line x1="1227" y1="287" x2="1248" y2="428" stroke="#1a1612" stroke-width="2.4" stroke-linecap="round"/>
<line x1="1268" y1="328" x2="1079" y2="390" stroke="#1a1612" stroke-width="2.4" stroke-linecap="round"/>
<line x1="1258" y1="347" x2="1144" y2="405" stroke="#1a1612" stroke-width="2.4" stroke-linecap="round"/>
<line x1="1298" y1="412" x2="1210" y2="446" stroke="#1a1612" stroke-width="2.4" stroke-linecap="round"/>
<line x1="1290" y1="430" x2="1263" y2="493" stroke="#1a1612" stroke-width="2.4" stroke-linecap="round"/>
<line x1="1298" y1="523" x2="1186" y2="492" stroke="#1a1612" stroke-width="2.4" stroke-linecap="round"/>
<line x1="1307" y1="570" x2="1200" y2="528" stroke="#1a1612" stroke-width="2.4" stroke-linecap="round"/>
<line x1="1340" y1="633" x2="1297" y2="593" stroke="#1a1612" stroke-width="2.4" stroke-linecap="round"/>
<line x1="1295" y1="720" x2="1248" y2="718" stroke="#1a1612" stroke-width="2.4" stroke-linecap="round"/>
<line x1="1298" y1="780" x2="1247" y2="741" stroke="#1a1612" stroke-width="2.4" stroke-linecap="round"/>
<line x1="1270" y1="922" x2="1218" y2="922" stroke="#1a1612" stroke-width="2.4" stroke-linecap="round"/>
<line x1="1322" y1="977" x2="1147" y2="998" stroke="#1a1612" stroke-width="2.4" stroke-linecap="round"/>
<line x1="1300" y1="1037" x2="1240" y2="1025" stroke="#1a1612" stroke-width="2.4" stroke-linecap="round"/>
<line x1="1072" y1="675" x2="1092" y2="676" stroke="#1a1612" stroke-width="2.4" stroke-linecap="round"/>
<text class="lb" x="701.7" y="199.3" textLength="55.6" lengthAdjust="spacingAndGlyphs">Heat</text>
<text class="lb" x="675.7" y="274.0" textLength="166.0" lengthAdjust="spacingAndGlyphs">Left cerebrum</text>
<text class="lb" x="666.7" y="322.7" textLength="180.0" lengthAdjust="spacingAndGlyphs">Right cerebrum</text>
<text class="lb" x="713.3" y="379.3" textLength="58.4" lengthAdjust="spacingAndGlyphs">Nose</text>
<text class="lb" x="643.3" y="416.7" textLength="175.0" lengthAdjust="spacingAndGlyphs">Pituitary gland</text>
<text class="lb" x="715.0" y="464.0" textLength="65.0" lengthAdjust="spacingAndGlyphs">Brain</text>
<text class="lb" x="640.0" y="509.3" textLength="238.3" lengthAdjust="spacingAndGlyphs">High blood pressure</text>
<text class="lb" x="655.0" y="563.3" textLength="208.3" lengthAdjust="spacingAndGlyphs">Parathyroid dland</text>
<text class="lb" x="638.3" y="607.3" textLength="166.7" lengthAdjust="spacingAndGlyphs">Lymph glands</text>
<text class="lb" x="673.3" y="660.0" textLength="75.0" lengthAdjust="spacingAndGlyphs">Gullet</text>
<text class="lb" x="630.0" y="699.0" textLength="201.7" lengthAdjust="spacingAndGlyphs">Digestive system</text>
<text class="lb" x="630.0" y="728.3" textLength="153.3" lengthAdjust="spacingAndGlyphs">celiac plexus</text>
<text class="lb" x="680.0" y="776.7" textLength="105.0" lengthAdjust="spacingAndGlyphs">Pancreas</text>
<text class="lb" x="668.3" y="830.0" textLength="128.4" lengthAdjust="spacingAndGlyphs">Duodenum</text>
<text class="lb" x="635.0" y="876.0" textLength="200.0" lengthAdjust="spacingAndGlyphs">Transverse colon</text>
<text class="lb" x="651.7" y="904.0" textLength="163.3" lengthAdjust="spacingAndGlyphs">Urethral canal</text>
<text class="lb" x="646.7" y="934.0" textLength="176.6" lengthAdjust="spacingAndGlyphs">Small intestine</text>
<text class="lb" x="693.3" y="979.3" textLength="93.4" lengthAdjust="spacingAndGlyphs">Bladder</text>
<text class="lb" x="585.0" y="1045.0" textLength="350.0" lengthAdjust="spacingAndGlyphs">Coccygeal bone sacroanterior</text>
<text class="lb" x="658.0" y="1150.0" textLength="200.0" lengthAdjust="spacingAndGlyphs">Haemorrhoidalis</text>
<text class="lb" x="241.7" y="260.0" textLength="111.6" lengthAdjust="spacingAndGlyphs">paranasal</text>
<text class="lb" x="380.0" y="260.0" textLength="73.3" lengthAdjust="spacingAndGlyphs">cavity</text>
<text class="lb" x="200.0" y="329.3" textLength="46.7" lengthAdjust="spacingAndGlyphs">Eye</text>
<text class="lb" x="105.0" y="448.3" textLength="40.0" lengthAdjust="spacingAndGlyphs">Ear</text>
<text class="lb" x="33.3" y="612.7" textLength="113.4" lengthAdjust="spacingAndGlyphs">Trapezius</text>
<text class="lb" x="6.7" y="656.7" textLength="175.0" lengthAdjust="spacingAndGlyphs">Lung brouchus</text>
<text class="lb" x="356.7" y="555.0" textLength="93.3" lengthAdjust="spacingAndGlyphs">Trachea</text>
<text class="lb" x="288.3" y="635.0" textLength="61.7" lengthAdjust="spacingAndGlyphs">Liver</text>
<text class="lb" x="36.0" y="711.7" textLength="139.0" lengthAdjust="spacingAndGlyphs">Renal gland</text>
<text class="lb" x="20.0" y="788.3" textLength="145.0" lengthAdjust="spacingAndGlyphs">Gall bladder</text>
<text class="lb" x="25.0" y="838.3" textLength="195.0" lengthAdjust="spacingAndGlyphs">Ascending colon</text>
<text class="lb" x="11.7" y="936.7" textLength="240.0" lengthAdjust="spacingAndGlyphs">Vermiform appendix</text>
<text class="lb" x="91.7" y="1035.0" textLength="61.6" lengthAdjust="spacingAndGlyphs">Knee</text>
<text class="lb" x="1137.3" y="260.0" textLength="191.0" lengthAdjust="spacingAndGlyphs">Paranasal cavity</text>
<text class="lb" x="1270.7" y="329.3" textLength="42.6" lengthAdjust="spacingAndGlyphs">Eye</text>
<text class="lb" x="1301.7" y="418.3" textLength="40.0" lengthAdjust="spacingAndGlyphs">Ear</text>
<text class="lb" x="1316.7" y="546.7" textLength="113.3" lengthAdjust="spacingAndGlyphs">Trapezius</text>
<text class="lb" x="1311.7" y="588.3" textLength="163.3" lengthAdjust="spacingAndGlyphs">Lymph glands</text>
<text class="lb" x="1345.0" y="646.7" textLength="105.0" lengthAdjust="spacingAndGlyphs">Shoulder</text>
<text class="lb" x="1051.7" y="555.0" textLength="105.0" lengthAdjust="spacingAndGlyphs">Left lung</text>
<text class="lb" x="1166.7" y="645.0" textLength="65.0" lengthAdjust="spacingAndGlyphs">Heart</text>
<text class="lb" x="1313.3" y="730.0" textLength="158.4" lengthAdjust="spacingAndGlyphs">adrenal gland</text>
<text class="lb" x="1307.3" y="788.3" textLength="81.0" lengthAdjust="spacingAndGlyphs">Spleen</text>
<text class="lb" x="1285.0" y="928.3" textLength="208.3" lengthAdjust="spacingAndGlyphs">Descending colon</text>
<text class="lb" x="1348.3" y="981.7" textLength="100.0" lengthAdjust="spacingAndGlyphs">Recturm</text>
<text class="lb" x="1335.0" y="1045.0" textLength="60.0" lengthAdjust="spacingAndGlyphs">Knee</text>
<text class="lb" x="1068.3" y="1085.0" textLength="115.0" lengthAdjust="spacingAndGlyphs">Genitalia)</text>
<text class="lb" x="971.7" y="673.3" textLength="101.6" lengthAdjust="spacingAndGlyphs">Stomach</text>
<text class="ti" x="243" y="1316" textLength="239" lengthAdjust="spacingAndGlyphs">Right foot</text>
<text class="ti" x="1016.7" y="1322.7" textLength="206.6" lengthAdjust="spacingAndGlyphs">Left foot</text>
</svg>
</body></html>
